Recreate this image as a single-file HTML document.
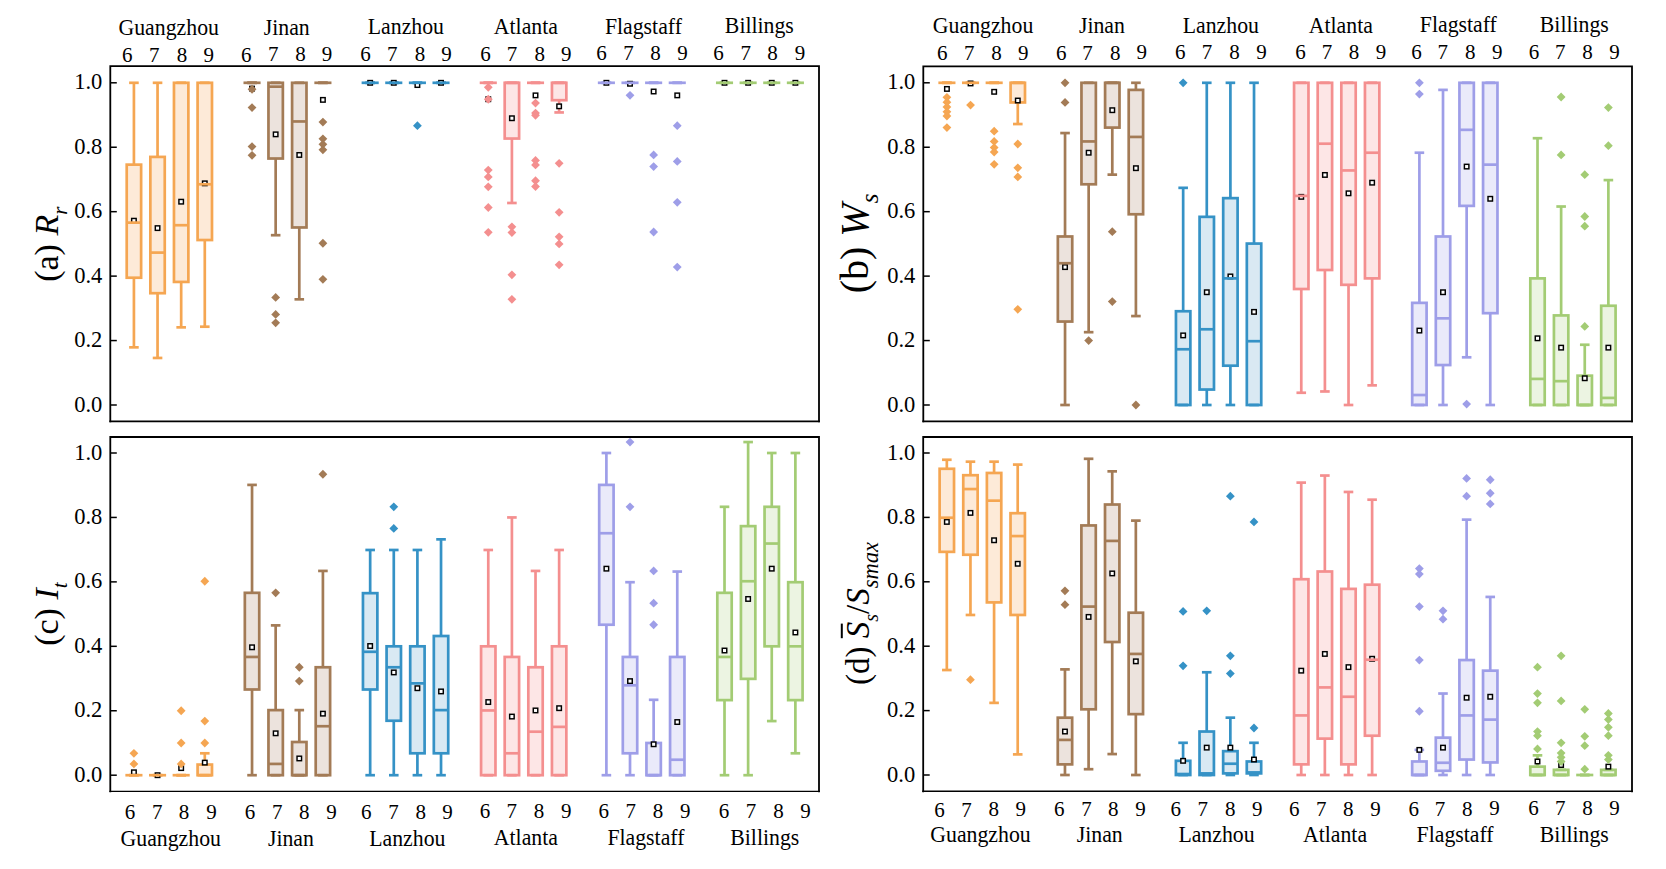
<!DOCTYPE html>
<html><head><meta charset="utf-8"><style>
html,body{margin:0;padding:0;background:#fff;}
svg{display:block;}
text{font-family:"Liberation Serif",serif;fill:#000;}
.tk{font-size:22.5px;}
.md{font-size:21px;}
.cn{font-size:21.8px;}
</style></head><body>
<svg width="1666" height="869" viewBox="0 0 1666 869">
<rect width="1666" height="869" fill="#fff"/>
<rect x="126.72" y="164.64" width="14.4" height="113.09" fill="#FDEAD8"/>
<g stroke="#F5A652" stroke-width="2.7" fill="none"><line x1="133.92" y1="164.64" x2="133.92" y2="82.8"/><line x1="133.92" y1="277.73" x2="133.92" y2="347.33"/><line x1="129.12" y1="82.8" x2="138.72" y2="82.8"/><line x1="129.12" y1="347.33" x2="138.72" y2="347.33"/><rect x="126.72" y="164.64" width="14.4" height="113.09"/></g>
<rect x="131.67" y="218.45" width="4.5" height="4.5" fill="#fff" stroke="#000" stroke-width="1.45"/>
<g stroke="#F5A652" stroke-width="2.7" fill="none"><line x1="126.72" y1="222.63" x2="141.12" y2="222.63"/></g>
<rect x="150.35" y="156.91" width="14.4" height="136.29" fill="#FDEAD8"/>
<g stroke="#F5A652" stroke-width="2.7" fill="none"><line x1="157.55" y1="156.91" x2="157.55" y2="82.8"/><line x1="157.55" y1="293.2" x2="157.55" y2="357.96"/><line x1="152.75" y1="82.8" x2="162.35" y2="82.8"/><line x1="152.75" y1="357.96" x2="162.35" y2="357.96"/><rect x="150.35" y="156.91" width="14.4" height="136.29"/></g>
<rect x="155.3" y="225.86" width="4.5" height="4.5" fill="#fff" stroke="#000" stroke-width="1.45"/>
<g stroke="#F5A652" stroke-width="2.7" fill="none"><line x1="150.35" y1="252.6" x2="164.75" y2="252.6"/></g>
<rect x="173.97" y="82.8" width="14.4" height="199.12" fill="#FDEAD8"/>
<g stroke="#F5A652" stroke-width="2.7" fill="none"><line x1="181.17" y1="281.92" x2="181.17" y2="327.35"/><line x1="176.37" y1="82.8" x2="185.97" y2="82.8"/><line x1="176.37" y1="327.35" x2="185.97" y2="327.35"/><rect x="173.97" y="82.8" width="14.4" height="199.12"/></g>
<rect x="178.92" y="199.44" width="4.5" height="4.5" fill="#fff" stroke="#000" stroke-width="1.45"/>
<g stroke="#F5A652" stroke-width="2.7" fill="none"><line x1="173.97" y1="225.21" x2="188.37" y2="225.21"/></g>
<rect x="197.59" y="82.8" width="14.4" height="157.23" fill="#FDEAD8"/>
<g stroke="#F5A652" stroke-width="2.7" fill="none"><line x1="204.79" y1="240.03" x2="204.79" y2="326.71"/><line x1="199.99" y1="82.8" x2="209.59" y2="82.8"/><line x1="199.99" y1="326.71" x2="209.59" y2="326.71"/><rect x="197.59" y="82.8" width="14.4" height="157.23"/></g>
<rect x="202.54" y="181.08" width="4.5" height="4.5" fill="#fff" stroke="#000" stroke-width="1.45"/>
<g stroke="#F5A652" stroke-width="2.7" fill="none"><line x1="197.59" y1="184.29" x2="211.99" y2="184.29"/></g>
<g stroke="#A37B56" stroke-width="2.7" fill="none"><line x1="247.24" y1="82.8" x2="256.84" y2="82.8"/><line x1="247.24" y1="82.8" x2="256.84" y2="82.8"/></g>
<rect x="249.79" y="86.35" width="4.5" height="4.5" fill="#fff" stroke="#000" stroke-width="1.45"/>
<path d="M252.04 84.84L256.44 89.24L252.04 93.64L247.64 89.24Z" fill="#A37B56"/>
<path d="M252.04 103.21L256.44 107.61L252.04 112.01L247.64 107.61Z" fill="#A37B56"/>
<path d="M252.04 142.2L256.44 146.6L252.04 151L247.64 146.6Z" fill="#A37B56"/>
<path d="M252.04 150.89L256.44 155.29L252.04 159.69L247.64 155.29Z" fill="#A37B56"/>
<g stroke="#A37B56" stroke-width="2.7" fill="none"><line x1="243.49" y1="82.8" x2="260.59" y2="82.8"/></g>
<rect x="268.46" y="82.8" width="14.4" height="75.72" fill="#ECE3DD"/>
<g stroke="#A37B56" stroke-width="2.7" fill="none"><line x1="275.66" y1="158.52" x2="275.66" y2="235.2"/><line x1="270.86" y1="82.8" x2="280.46" y2="82.8"/><line x1="270.86" y1="235.2" x2="280.46" y2="235.2"/><rect x="268.46" y="82.8" width="14.4" height="75.72"/></g>
<rect x="273.41" y="132.1" width="4.5" height="4.5" fill="#fff" stroke="#000" stroke-width="1.45"/>
<path d="M275.66 292.99L280.06 297.39L275.66 301.79L271.26 297.39Z" fill="#A37B56"/>
<path d="M275.66 310.06L280.06 314.46L275.66 318.86L271.26 314.46Z" fill="#A37B56"/>
<path d="M275.66 318.44L280.06 322.84L275.66 327.24L271.26 322.84Z" fill="#A37B56"/>
<g stroke="#A37B56" stroke-width="2.7" fill="none"><line x1="268.46" y1="86.67" x2="282.86" y2="86.67"/></g>
<rect x="292.09" y="82.8" width="14.4" height="144.67" fill="#ECE3DD"/>
<g stroke="#A37B56" stroke-width="2.7" fill="none"><line x1="299.29" y1="227.47" x2="299.29" y2="299.32"/><line x1="294.49" y1="82.8" x2="304.09" y2="82.8"/><line x1="294.49" y1="299.32" x2="304.09" y2="299.32"/><rect x="292.09" y="82.8" width="14.4" height="144.67"/></g>
<rect x="297.04" y="152.72" width="4.5" height="4.5" fill="#fff" stroke="#000" stroke-width="1.45"/>
<g stroke="#A37B56" stroke-width="2.7" fill="none"><line x1="292.09" y1="121.46" x2="306.49" y2="121.46"/></g>
<g stroke="#A37B56" stroke-width="2.7" fill="none"><line x1="318.11" y1="82.8" x2="327.71" y2="82.8"/><line x1="318.11" y1="82.8" x2="327.71" y2="82.8"/></g>
<rect x="320.66" y="97.63" width="4.5" height="4.5" fill="#fff" stroke="#000" stroke-width="1.45"/>
<path d="M322.91 117.71L327.31 122.11L322.91 126.51L318.51 122.11Z" fill="#A37B56"/>
<path d="M322.91 134.46L327.31 138.86L322.91 143.26L318.51 138.86Z" fill="#A37B56"/>
<path d="M322.91 139.94L327.31 144.34L322.91 148.74L318.51 144.34Z" fill="#A37B56"/>
<path d="M322.91 145.42L327.31 149.82L322.91 154.22L318.51 149.82Z" fill="#A37B56"/>
<path d="M322.91 238.86L327.31 243.26L322.91 247.66L318.51 243.26Z" fill="#A37B56"/>
<path d="M322.91 274.94L327.31 279.34L322.91 283.74L318.51 279.34Z" fill="#A37B56"/>
<g stroke="#A37B56" stroke-width="2.7" fill="none"><line x1="314.36" y1="82.8" x2="331.46" y2="82.8"/></g>
<g stroke="#3592C6" stroke-width="2.7" fill="none"><line x1="365.36" y1="82.8" x2="374.96" y2="82.8"/><line x1="365.36" y1="82.8" x2="374.96" y2="82.8"/></g>
<rect x="367.91" y="80.55" width="4.5" height="4.5" fill="#fff" stroke="#000" stroke-width="1.45"/>
<g stroke="#3592C6" stroke-width="2.7" fill="none"><line x1="361.61" y1="82.8" x2="378.71" y2="82.8"/></g>
<g stroke="#3592C6" stroke-width="2.7" fill="none"><line x1="388.98" y1="82.8" x2="398.58" y2="82.8"/><line x1="388.98" y1="82.8" x2="398.58" y2="82.8"/></g>
<rect x="391.53" y="80.55" width="4.5" height="4.5" fill="#fff" stroke="#000" stroke-width="1.45"/>
<g stroke="#3592C6" stroke-width="2.7" fill="none"><line x1="385.23" y1="82.8" x2="402.33" y2="82.8"/></g>
<g stroke="#3592C6" stroke-width="2.7" fill="none"><line x1="412.6" y1="82.8" x2="422.2" y2="82.8"/><line x1="412.6" y1="82.8" x2="422.2" y2="82.8"/></g>
<rect x="415.15" y="82.81" width="4.5" height="4.5" fill="#fff" stroke="#000" stroke-width="1.45"/>
<path d="M417.4 121.25L421.8 125.65L417.4 130.05L413 125.65Z" fill="#3592C6"/>
<g stroke="#3592C6" stroke-width="2.7" fill="none"><line x1="408.85" y1="82.8" x2="425.95" y2="82.8"/></g>
<g stroke="#3592C6" stroke-width="2.7" fill="none"><line x1="436.23" y1="82.8" x2="445.83" y2="82.8"/><line x1="436.23" y1="82.8" x2="445.83" y2="82.8"/></g>
<rect x="438.78" y="80.55" width="4.5" height="4.5" fill="#fff" stroke="#000" stroke-width="1.45"/>
<g stroke="#3592C6" stroke-width="2.7" fill="none"><line x1="432.48" y1="82.8" x2="449.58" y2="82.8"/></g>
<g stroke="#F48F8F" stroke-width="2.7" fill="none"><line x1="483.47" y1="82.8" x2="493.07" y2="82.8"/><line x1="483.47" y1="82.8" x2="493.07" y2="82.8"/></g>
<rect x="486.02" y="96.98" width="4.5" height="4.5" fill="#fff" stroke="#000" stroke-width="1.45"/>
<path d="M488.27 82.91L492.67 87.31L488.27 91.71L483.87 87.31Z" fill="#F48F8F"/>
<path d="M488.27 94.83L492.67 99.23L488.27 103.63L483.87 99.23Z" fill="#F48F8F"/>
<path d="M488.27 165.72L492.67 170.12L488.27 174.52L483.87 170.12Z" fill="#F48F8F"/>
<path d="M488.27 172.48L492.67 176.88L488.27 181.28L483.87 176.88Z" fill="#F48F8F"/>
<path d="M488.27 182.47L492.67 186.87L488.27 191.27L483.87 186.87Z" fill="#F48F8F"/>
<path d="M488.27 203.09L492.67 207.49L488.27 211.89L483.87 207.49Z" fill="#F48F8F"/>
<path d="M488.27 227.9L492.67 232.3L488.27 236.7L483.87 232.3Z" fill="#F48F8F"/>
<g stroke="#F48F8F" stroke-width="2.7" fill="none"><line x1="479.72" y1="82.8" x2="496.82" y2="82.8"/></g>
<rect x="504.7" y="82.8" width="14.4" height="55.74" fill="#FDE6E6"/>
<g stroke="#F48F8F" stroke-width="2.7" fill="none"><line x1="511.9" y1="138.54" x2="511.9" y2="202.98"/><line x1="507.1" y1="82.8" x2="516.7" y2="82.8"/><line x1="507.1" y1="202.98" x2="516.7" y2="202.98"/><rect x="504.7" y="82.8" width="14.4" height="55.74"/></g>
<rect x="509.65" y="115.99" width="4.5" height="4.5" fill="#fff" stroke="#000" stroke-width="1.45"/>
<path d="M511.9 222.42L516.3 226.82L511.9 231.22L507.5 226.82Z" fill="#F48F8F"/>
<path d="M511.9 228.22L516.3 232.62L511.9 237.02L507.5 232.62Z" fill="#F48F8F"/>
<path d="M511.9 270.43L516.3 274.83L511.9 279.23L507.5 274.83Z" fill="#F48F8F"/>
<path d="M511.9 294.92L516.3 299.32L511.9 303.72L507.5 299.32Z" fill="#F48F8F"/>
<g stroke="#F48F8F" stroke-width="2.7" fill="none"><line x1="504.7" y1="82.8" x2="519.1" y2="82.8"/></g>
<g stroke="#F48F8F" stroke-width="2.7" fill="none"><line x1="530.72" y1="82.8" x2="540.32" y2="82.8"/><line x1="530.72" y1="82.8" x2="540.32" y2="82.8"/></g>
<rect x="533.27" y="93.12" width="4.5" height="4.5" fill="#fff" stroke="#000" stroke-width="1.45"/>
<path d="M535.52 98.7L539.92 103.1L535.52 107.5L531.12 103.1Z" fill="#F48F8F"/>
<path d="M535.52 108.69L539.92 113.09L535.52 117.49L531.12 113.09Z" fill="#F48F8F"/>
<path d="M535.52 110.94L539.92 115.34L535.52 119.74L531.12 115.34Z" fill="#F48F8F"/>
<path d="M535.52 156.05L539.92 160.45L535.52 164.85L531.12 160.45Z" fill="#F48F8F"/>
<path d="M535.52 160.56L539.92 164.96L535.52 169.36L531.12 164.96Z" fill="#F48F8F"/>
<path d="M535.52 176.35L539.92 180.75L535.52 185.15L531.12 180.75Z" fill="#F48F8F"/>
<path d="M535.52 182.15L539.92 186.55L535.52 190.95L531.12 186.55Z" fill="#F48F8F"/>
<g stroke="#F48F8F" stroke-width="2.7" fill="none"><line x1="526.97" y1="82.8" x2="544.07" y2="82.8"/></g>
<rect x="551.94" y="82.8" width="14.4" height="17.4" fill="#FDE6E6"/>
<g stroke="#F48F8F" stroke-width="2.7" fill="none"><line x1="559.14" y1="100.2" x2="559.14" y2="112.44"/><line x1="554.34" y1="82.8" x2="563.94" y2="82.8"/><line x1="554.34" y1="112.44" x2="563.94" y2="112.44"/><rect x="551.94" y="82.8" width="14.4" height="17.4"/></g>
<rect x="556.89" y="104.07" width="4.5" height="4.5" fill="#fff" stroke="#000" stroke-width="1.45"/>
<path d="M559.14 158.95L563.54 163.35L559.14 167.75L554.74 163.35Z" fill="#F48F8F"/>
<path d="M559.14 207.92L563.54 212.32L559.14 216.72L554.74 212.32Z" fill="#F48F8F"/>
<path d="M559.14 232.41L563.54 236.81L559.14 241.21L554.74 236.81Z" fill="#F48F8F"/>
<path d="M559.14 239.5L563.54 243.9L559.14 248.3L554.74 243.9Z" fill="#F48F8F"/>
<path d="M559.14 260.44L563.54 264.84L559.14 269.24L554.74 264.84Z" fill="#F48F8F"/>
<g stroke="#F48F8F" stroke-width="2.7" fill="none"><line x1="551.94" y1="82.8" x2="566.34" y2="82.8"/></g>
<g stroke="#9E9EE8" stroke-width="2.7" fill="none"><line x1="601.59" y1="82.8" x2="611.19" y2="82.8"/><line x1="601.59" y1="82.8" x2="611.19" y2="82.8"/></g>
<rect x="604.14" y="80.55" width="4.5" height="4.5" fill="#fff" stroke="#000" stroke-width="1.45"/>
<g stroke="#9E9EE8" stroke-width="2.7" fill="none"><line x1="597.84" y1="82.8" x2="614.94" y2="82.8"/></g>
<g stroke="#9E9EE8" stroke-width="2.7" fill="none"><line x1="625.21" y1="82.8" x2="634.81" y2="82.8"/><line x1="625.21" y1="82.8" x2="634.81" y2="82.8"/></g>
<rect x="627.76" y="81.52" width="4.5" height="4.5" fill="#fff" stroke="#000" stroke-width="1.45"/>
<path d="M630.01 90.97L634.41 95.37L630.01 99.77L625.61 95.37Z" fill="#9E9EE8"/>
<g stroke="#9E9EE8" stroke-width="2.7" fill="none"><line x1="621.46" y1="82.8" x2="638.56" y2="82.8"/></g>
<g stroke="#9E9EE8" stroke-width="2.7" fill="none"><line x1="648.84" y1="82.8" x2="658.44" y2="82.8"/><line x1="648.84" y1="82.8" x2="658.44" y2="82.8"/></g>
<rect x="651.39" y="89.25" width="4.5" height="4.5" fill="#fff" stroke="#000" stroke-width="1.45"/>
<path d="M653.64 150.57L658.04 154.97L653.64 159.37L649.24 154.97Z" fill="#9E9EE8"/>
<path d="M653.64 162.17L658.04 166.57L653.64 170.97L649.24 166.57Z" fill="#9E9EE8"/>
<path d="M653.64 227.58L658.04 231.98L653.64 236.38L649.24 231.98Z" fill="#9E9EE8"/>
<g stroke="#9E9EE8" stroke-width="2.7" fill="none"><line x1="645.09" y1="82.8" x2="662.19" y2="82.8"/></g>
<g stroke="#9E9EE8" stroke-width="2.7" fill="none"><line x1="672.46" y1="82.8" x2="682.06" y2="82.8"/><line x1="672.46" y1="82.8" x2="682.06" y2="82.8"/></g>
<rect x="675.01" y="93.12" width="4.5" height="4.5" fill="#fff" stroke="#000" stroke-width="1.45"/>
<path d="M677.26 121.25L681.66 125.65L677.26 130.05L672.86 125.65Z" fill="#9E9EE8"/>
<path d="M677.26 157.02L681.66 161.42L677.26 165.82L672.86 161.42Z" fill="#9E9EE8"/>
<path d="M677.26 197.94L681.66 202.34L677.26 206.74L672.86 202.34Z" fill="#9E9EE8"/>
<path d="M677.26 262.7L681.66 267.1L677.26 271.5L672.86 267.1Z" fill="#9E9EE8"/>
<g stroke="#9E9EE8" stroke-width="2.7" fill="none"><line x1="668.71" y1="82.8" x2="685.81" y2="82.8"/></g>
<g stroke="#A3CC74" stroke-width="2.7" fill="none"><line x1="719.71" y1="82.8" x2="729.31" y2="82.8"/><line x1="719.71" y1="82.8" x2="729.31" y2="82.8"/></g>
<rect x="722.26" y="80.55" width="4.5" height="4.5" fill="#fff" stroke="#000" stroke-width="1.45"/>
<g stroke="#A3CC74" stroke-width="2.7" fill="none"><line x1="715.96" y1="82.8" x2="733.06" y2="82.8"/></g>
<g stroke="#A3CC74" stroke-width="2.7" fill="none"><line x1="743.33" y1="82.8" x2="752.93" y2="82.8"/><line x1="743.33" y1="82.8" x2="752.93" y2="82.8"/></g>
<rect x="745.88" y="80.55" width="4.5" height="4.5" fill="#fff" stroke="#000" stroke-width="1.45"/>
<g stroke="#A3CC74" stroke-width="2.7" fill="none"><line x1="739.58" y1="82.8" x2="756.68" y2="82.8"/></g>
<g stroke="#A3CC74" stroke-width="2.7" fill="none"><line x1="766.95" y1="82.8" x2="776.55" y2="82.8"/><line x1="766.95" y1="82.8" x2="776.55" y2="82.8"/></g>
<rect x="769.5" y="80.55" width="4.5" height="4.5" fill="#fff" stroke="#000" stroke-width="1.45"/>
<g stroke="#A3CC74" stroke-width="2.7" fill="none"><line x1="763.2" y1="82.8" x2="780.3" y2="82.8"/></g>
<g stroke="#A3CC74" stroke-width="2.7" fill="none"><line x1="790.58" y1="82.8" x2="800.18" y2="82.8"/><line x1="790.58" y1="82.8" x2="800.18" y2="82.8"/></g>
<rect x="793.13" y="80.55" width="4.5" height="4.5" fill="#fff" stroke="#000" stroke-width="1.45"/>
<g stroke="#A3CC74" stroke-width="2.7" fill="none"><line x1="786.83" y1="82.8" x2="803.93" y2="82.8"/></g>
<path d="M110.3 421.3V66.1H819V421.3" fill="none" stroke="#000" stroke-width="1.8" stroke-linejoin="miter" stroke-linecap="square"/>
<line x1="109.4" y1="421.3" x2="819.9" y2="421.3" stroke="#000" stroke-width="1.8"/>
<line x1="110.3" y1="405" x2="116.8" y2="405" stroke="#000" stroke-width="1.5"/>
<text x="102.3" y="411.5" text-anchor="end" class="tk">0.0</text>
<line x1="110.3" y1="340.56" x2="116.8" y2="340.56" stroke="#000" stroke-width="1.5"/>
<text x="102.3" y="347.06" text-anchor="end" class="tk">0.2</text>
<line x1="110.3" y1="276.12" x2="116.8" y2="276.12" stroke="#000" stroke-width="1.5"/>
<text x="102.3" y="282.62" text-anchor="end" class="tk">0.4</text>
<line x1="110.3" y1="211.68" x2="116.8" y2="211.68" stroke="#000" stroke-width="1.5"/>
<text x="102.3" y="218.18" text-anchor="end" class="tk">0.6</text>
<line x1="110.3" y1="147.24" x2="116.8" y2="147.24" stroke="#000" stroke-width="1.5"/>
<text x="102.3" y="153.74" text-anchor="end" class="tk">0.8</text>
<line x1="110.3" y1="82.8" x2="116.8" y2="82.8" stroke="#000" stroke-width="1.5"/>
<text x="102.3" y="89.3" text-anchor="end" class="tk">1.0</text>
<g stroke="#F5A652" stroke-width="2.7" fill="none"><line x1="942.12" y1="82.8" x2="951.72" y2="82.8"/><line x1="942.12" y1="82.8" x2="951.72" y2="82.8"/></g>
<rect x="944.67" y="86.67" width="4.5" height="4.5" fill="#fff" stroke="#000" stroke-width="1.45"/>
<path d="M946.92 92.9L951.32 97.3L946.92 101.7L942.52 97.3Z" fill="#F5A652"/>
<path d="M946.92 97.73L951.32 102.13L946.92 106.53L942.52 102.13Z" fill="#F5A652"/>
<path d="M946.92 102.56L951.32 106.96L946.92 111.36L942.52 106.96Z" fill="#F5A652"/>
<path d="M946.92 107.4L951.32 111.8L946.92 116.2L942.52 111.8Z" fill="#F5A652"/>
<path d="M946.92 111.59L951.32 115.99L946.92 120.39L942.52 115.99Z" fill="#F5A652"/>
<path d="M946.92 123.19L951.32 127.59L946.92 131.99L942.52 127.59Z" fill="#F5A652"/>
<g stroke="#F5A652" stroke-width="2.7" fill="none"><line x1="938.37" y1="82.8" x2="955.47" y2="82.8"/></g>
<g stroke="#F5A652" stroke-width="2.7" fill="none"><line x1="965.75" y1="82.8" x2="975.35" y2="82.8"/><line x1="965.75" y1="82.8" x2="975.35" y2="82.8"/></g>
<rect x="968.3" y="81.19" width="4.5" height="4.5" fill="#fff" stroke="#000" stroke-width="1.45"/>
<path d="M970.55 100.63L974.95 105.03L970.55 109.43L966.15 105.03Z" fill="#F5A652"/>
<g stroke="#F5A652" stroke-width="2.7" fill="none"><line x1="962" y1="82.8" x2="979.1" y2="82.8"/></g>
<g stroke="#F5A652" stroke-width="2.7" fill="none"><line x1="989.37" y1="82.8" x2="998.97" y2="82.8"/><line x1="989.37" y1="82.8" x2="998.97" y2="82.8"/></g>
<rect x="991.92" y="89.57" width="4.5" height="4.5" fill="#fff" stroke="#000" stroke-width="1.45"/>
<path d="M994.17 126.73L998.57 131.13L994.17 135.53L989.77 131.13Z" fill="#F5A652"/>
<path d="M994.17 137.04L998.57 141.44L994.17 145.84L989.77 141.44Z" fill="#F5A652"/>
<path d="M994.17 143.16L998.57 147.56L994.17 151.96L989.77 147.56Z" fill="#F5A652"/>
<path d="M994.17 147.67L998.57 152.07L994.17 156.47L989.77 152.07Z" fill="#F5A652"/>
<path d="M994.17 159.92L998.57 164.32L994.17 168.72L989.77 164.32Z" fill="#F5A652"/>
<g stroke="#F5A652" stroke-width="2.7" fill="none"><line x1="985.62" y1="82.8" x2="1002.72" y2="82.8"/></g>
<rect x="1010.59" y="82.8" width="14.4" height="19.65" fill="#FDEAD8"/>
<g stroke="#F5A652" stroke-width="2.7" fill="none"><line x1="1017.79" y1="102.45" x2="1017.79" y2="124.04"/><line x1="1012.99" y1="82.8" x2="1022.59" y2="82.8"/><line x1="1012.99" y1="124.04" x2="1022.59" y2="124.04"/><rect x="1010.59" y="82.8" width="14.4" height="19.65"/></g>
<rect x="1015.54" y="98.27" width="4.5" height="4.5" fill="#fff" stroke="#000" stroke-width="1.45"/>
<path d="M1017.79 139.62L1022.19 144.02L1017.79 148.42L1013.39 144.02Z" fill="#F5A652"/>
<path d="M1017.79 163.46L1022.19 167.86L1017.79 172.26L1013.39 167.86Z" fill="#F5A652"/>
<path d="M1017.79 172.48L1022.19 176.88L1017.79 181.28L1013.39 176.88Z" fill="#F5A652"/>
<path d="M1017.79 304.91L1022.19 309.31L1017.79 313.71L1013.39 309.31Z" fill="#F5A652"/>
<g stroke="#F5A652" stroke-width="2.7" fill="none"><line x1="1010.59" y1="82.8" x2="1024.99" y2="82.8"/></g>
<rect x="1057.84" y="236.49" width="14.4" height="85.06" fill="#ECE3DD"/>
<g stroke="#A37B56" stroke-width="2.7" fill="none"><line x1="1065.04" y1="236.49" x2="1065.04" y2="133.06"/><line x1="1065.04" y1="321.55" x2="1065.04" y2="405"/><line x1="1060.24" y1="133.06" x2="1069.84" y2="133.06"/><line x1="1060.24" y1="405" x2="1069.84" y2="405"/><rect x="1057.84" y="236.49" width="14.4" height="85.06"/></g>
<rect x="1062.79" y="264.85" width="4.5" height="4.5" fill="#fff" stroke="#000" stroke-width="1.45"/>
<path d="M1065.04 78.4L1069.44 82.8L1065.04 87.2L1060.64 82.8Z" fill="#A37B56"/>
<path d="M1065.04 98.05L1069.44 102.45L1065.04 106.85L1060.64 102.45Z" fill="#A37B56"/>
<g stroke="#A37B56" stroke-width="2.7" fill="none"><line x1="1057.84" y1="263.23" x2="1072.24" y2="263.23"/></g>
<rect x="1081.46" y="82.8" width="14.4" height="101.49" fill="#ECE3DD"/>
<g stroke="#A37B56" stroke-width="2.7" fill="none"><line x1="1088.66" y1="184.29" x2="1088.66" y2="332.18"/><line x1="1083.86" y1="82.8" x2="1093.46" y2="82.8"/><line x1="1083.86" y1="332.18" x2="1093.46" y2="332.18"/><rect x="1081.46" y="82.8" width="14.4" height="101.49"/></g>
<rect x="1086.41" y="150.47" width="4.5" height="4.5" fill="#fff" stroke="#000" stroke-width="1.45"/>
<path d="M1088.66 336.16L1093.06 340.56L1088.66 344.96L1084.26 340.56Z" fill="#A37B56"/>
<g stroke="#A37B56" stroke-width="2.7" fill="none"><line x1="1081.46" y1="141.44" x2="1095.86" y2="141.44"/></g>
<rect x="1105.09" y="82.8" width="14.4" height="44.79" fill="#ECE3DD"/>
<g stroke="#A37B56" stroke-width="2.7" fill="none"><line x1="1112.29" y1="127.59" x2="1112.29" y2="174.63"/><line x1="1107.49" y1="82.8" x2="1117.09" y2="82.8"/><line x1="1107.49" y1="174.63" x2="1117.09" y2="174.63"/><rect x="1105.09" y="82.8" width="14.4" height="44.79"/></g>
<rect x="1110.04" y="107.94" width="4.5" height="4.5" fill="#fff" stroke="#000" stroke-width="1.45"/>
<path d="M1112.29 227.26L1116.69 231.66L1112.29 236.06L1107.89 231.66Z" fill="#A37B56"/>
<path d="M1112.29 297.17L1116.69 301.57L1112.29 305.97L1107.89 301.57Z" fill="#A37B56"/>
<g stroke="#A37B56" stroke-width="2.7" fill="none"><line x1="1105.09" y1="82.8" x2="1119.49" y2="82.8"/></g>
<rect x="1128.71" y="89.89" width="14.4" height="124.37" fill="#ECE3DD"/>
<g stroke="#A37B56" stroke-width="2.7" fill="none"><line x1="1135.91" y1="89.89" x2="1135.91" y2="82.8"/><line x1="1135.91" y1="214.26" x2="1135.91" y2="316.07"/><line x1="1131.11" y1="82.8" x2="1140.71" y2="82.8"/><line x1="1131.11" y1="316.07" x2="1140.71" y2="316.07"/><rect x="1128.71" y="89.89" width="14.4" height="124.37"/></g>
<rect x="1133.66" y="165.93" width="4.5" height="4.5" fill="#fff" stroke="#000" stroke-width="1.45"/>
<path d="M1135.91 400.6L1140.31 405L1135.91 409.4L1131.51 405Z" fill="#A37B56"/>
<g stroke="#A37B56" stroke-width="2.7" fill="none"><line x1="1128.71" y1="136.93" x2="1143.11" y2="136.93"/></g>
<rect x="1175.96" y="311.24" width="14.4" height="93.76" fill="#D9E9F3"/>
<g stroke="#3592C6" stroke-width="2.7" fill="none"><line x1="1183.16" y1="311.24" x2="1183.16" y2="187.84"/><line x1="1178.36" y1="187.84" x2="1187.96" y2="187.84"/><line x1="1178.36" y1="405" x2="1187.96" y2="405"/><rect x="1175.96" y="311.24" width="14.4" height="93.76"/></g>
<rect x="1180.91" y="333.15" width="4.5" height="4.5" fill="#fff" stroke="#000" stroke-width="1.45"/>
<path d="M1183.16 78.4L1187.56 82.8L1183.16 87.2L1178.76 82.8Z" fill="#3592C6"/>
<g stroke="#3592C6" stroke-width="2.7" fill="none"><line x1="1175.96" y1="349.26" x2="1190.36" y2="349.26"/></g>
<rect x="1199.58" y="216.84" width="14.4" height="172.7" fill="#D9E9F3"/>
<g stroke="#3592C6" stroke-width="2.7" fill="none"><line x1="1206.78" y1="216.84" x2="1206.78" y2="82.8"/><line x1="1206.78" y1="389.53" x2="1206.78" y2="405"/><line x1="1201.98" y1="82.8" x2="1211.58" y2="82.8"/><line x1="1201.98" y1="405" x2="1211.58" y2="405"/><rect x="1199.58" y="216.84" width="14.4" height="172.7"/></g>
<rect x="1204.53" y="289.98" width="4.5" height="4.5" fill="#fff" stroke="#000" stroke-width="1.45"/>
<g stroke="#3592C6" stroke-width="2.7" fill="none"><line x1="1199.58" y1="329.28" x2="1213.98" y2="329.28"/></g>
<rect x="1223.2" y="198.15" width="14.4" height="167.54" fill="#D9E9F3"/>
<g stroke="#3592C6" stroke-width="2.7" fill="none"><line x1="1230.4" y1="198.15" x2="1230.4" y2="82.8"/><line x1="1230.4" y1="365.69" x2="1230.4" y2="405"/><line x1="1225.6" y1="82.8" x2="1235.2" y2="82.8"/><line x1="1225.6" y1="405" x2="1235.2" y2="405"/><rect x="1223.2" y="198.15" width="14.4" height="167.54"/></g>
<rect x="1228.15" y="274.19" width="4.5" height="4.5" fill="#fff" stroke="#000" stroke-width="1.45"/>
<g stroke="#3592C6" stroke-width="2.7" fill="none"><line x1="1223.2" y1="278.38" x2="1237.6" y2="278.38"/></g>
<rect x="1246.83" y="243.58" width="14.4" height="161.42" fill="#D9E9F3"/>
<g stroke="#3592C6" stroke-width="2.7" fill="none"><line x1="1254.03" y1="243.58" x2="1254.03" y2="82.8"/><line x1="1249.23" y1="82.8" x2="1258.83" y2="82.8"/><line x1="1249.23" y1="405" x2="1258.83" y2="405"/><rect x="1246.83" y="243.58" width="14.4" height="161.42"/></g>
<rect x="1251.78" y="309.63" width="4.5" height="4.5" fill="#fff" stroke="#000" stroke-width="1.45"/>
<g stroke="#3592C6" stroke-width="2.7" fill="none"><line x1="1246.83" y1="341.2" x2="1261.23" y2="341.2"/></g>
<rect x="1294.07" y="82.8" width="14.4" height="206.21" fill="#FDE6E6"/>
<g stroke="#F48F8F" stroke-width="2.7" fill="none"><line x1="1301.27" y1="289.01" x2="1301.27" y2="392.76"/><line x1="1296.47" y1="82.8" x2="1306.07" y2="82.8"/><line x1="1296.47" y1="392.76" x2="1306.07" y2="392.76"/><rect x="1294.07" y="82.8" width="14.4" height="206.21"/></g>
<rect x="1299.02" y="194.61" width="4.5" height="4.5" fill="#fff" stroke="#000" stroke-width="1.45"/>
<g stroke="#F48F8F" stroke-width="2.7" fill="none"><line x1="1294.07" y1="195.89" x2="1308.47" y2="195.89"/></g>
<rect x="1317.7" y="82.8" width="14.4" height="187.2" fill="#FDE6E6"/>
<g stroke="#F48F8F" stroke-width="2.7" fill="none"><line x1="1324.9" y1="270" x2="1324.9" y2="391.47"/><line x1="1320.1" y1="82.8" x2="1329.7" y2="82.8"/><line x1="1320.1" y1="391.47" x2="1329.7" y2="391.47"/><rect x="1317.7" y="82.8" width="14.4" height="187.2"/></g>
<rect x="1322.65" y="172.7" width="4.5" height="4.5" fill="#fff" stroke="#000" stroke-width="1.45"/>
<g stroke="#F48F8F" stroke-width="2.7" fill="none"><line x1="1317.7" y1="143.7" x2="1332.1" y2="143.7"/></g>
<rect x="1341.32" y="82.8" width="14.4" height="202.02" fill="#FDE6E6"/>
<g stroke="#F48F8F" stroke-width="2.7" fill="none"><line x1="1348.52" y1="284.82" x2="1348.52" y2="405"/><line x1="1343.72" y1="82.8" x2="1353.32" y2="82.8"/><line x1="1343.72" y1="405" x2="1353.32" y2="405"/><rect x="1341.32" y="82.8" width="14.4" height="202.02"/></g>
<rect x="1346.27" y="191.06" width="4.5" height="4.5" fill="#fff" stroke="#000" stroke-width="1.45"/>
<g stroke="#F48F8F" stroke-width="2.7" fill="none"><line x1="1341.32" y1="170.44" x2="1355.72" y2="170.44"/></g>
<rect x="1364.94" y="82.8" width="14.4" height="195.58" fill="#FDE6E6"/>
<g stroke="#F48F8F" stroke-width="2.7" fill="none"><line x1="1372.14" y1="278.38" x2="1372.14" y2="385.35"/><line x1="1367.34" y1="82.8" x2="1376.94" y2="82.8"/><line x1="1367.34" y1="385.35" x2="1376.94" y2="385.35"/><rect x="1364.94" y="82.8" width="14.4" height="195.58"/></g>
<rect x="1369.89" y="180.43" width="4.5" height="4.5" fill="#fff" stroke="#000" stroke-width="1.45"/>
<g stroke="#F48F8F" stroke-width="2.7" fill="none"><line x1="1364.94" y1="152.72" x2="1379.34" y2="152.72"/></g>
<rect x="1412.19" y="302.86" width="14.4" height="102.14" fill="#EAEAFA"/>
<g stroke="#9E9EE8" stroke-width="2.7" fill="none"><line x1="1419.39" y1="302.86" x2="1419.39" y2="152.72"/><line x1="1414.59" y1="152.72" x2="1424.19" y2="152.72"/><line x1="1414.59" y1="405" x2="1424.19" y2="405"/><rect x="1412.19" y="302.86" width="14.4" height="102.14"/></g>
<rect x="1417.14" y="328.32" width="4.5" height="4.5" fill="#fff" stroke="#000" stroke-width="1.45"/>
<path d="M1419.39 78.4L1423.79 82.8L1419.39 87.2L1414.99 82.8Z" fill="#9E9EE8"/>
<path d="M1419.39 89.68L1423.79 94.08L1419.39 98.48L1414.99 94.08Z" fill="#9E9EE8"/>
<g stroke="#9E9EE8" stroke-width="2.7" fill="none"><line x1="1412.19" y1="395.01" x2="1426.59" y2="395.01"/></g>
<rect x="1435.81" y="236.49" width="14.4" height="128.56" fill="#EAEAFA"/>
<g stroke="#9E9EE8" stroke-width="2.7" fill="none"><line x1="1443.01" y1="236.49" x2="1443.01" y2="89.89"/><line x1="1443.01" y1="365.05" x2="1443.01" y2="405"/><line x1="1438.21" y1="89.89" x2="1447.81" y2="89.89"/><line x1="1438.21" y1="405" x2="1447.81" y2="405"/><rect x="1435.81" y="236.49" width="14.4" height="128.56"/></g>
<rect x="1440.76" y="289.98" width="4.5" height="4.5" fill="#fff" stroke="#000" stroke-width="1.45"/>
<g stroke="#9E9EE8" stroke-width="2.7" fill="none"><line x1="1435.81" y1="318.33" x2="1450.21" y2="318.33"/></g>
<rect x="1459.44" y="82.8" width="14.4" height="123.08" fill="#EAEAFA"/>
<g stroke="#9E9EE8" stroke-width="2.7" fill="none"><line x1="1466.64" y1="205.88" x2="1466.64" y2="357.31"/><line x1="1461.84" y1="82.8" x2="1471.44" y2="82.8"/><line x1="1461.84" y1="357.31" x2="1471.44" y2="357.31"/><rect x="1459.44" y="82.8" width="14.4" height="123.08"/></g>
<rect x="1464.39" y="164.32" width="4.5" height="4.5" fill="#fff" stroke="#000" stroke-width="1.45"/>
<path d="M1466.64 399.63L1471.04 404.03L1466.64 408.43L1462.24 404.03Z" fill="#9E9EE8"/>
<g stroke="#9E9EE8" stroke-width="2.7" fill="none"><line x1="1459.44" y1="129.84" x2="1473.84" y2="129.84"/></g>
<rect x="1483.06" y="82.8" width="14.4" height="230.37" fill="#EAEAFA"/>
<g stroke="#9E9EE8" stroke-width="2.7" fill="none"><line x1="1490.26" y1="313.17" x2="1490.26" y2="405"/><line x1="1485.46" y1="82.8" x2="1495.06" y2="82.8"/><line x1="1485.46" y1="405" x2="1495.06" y2="405"/><rect x="1483.06" y="82.8" width="14.4" height="230.37"/></g>
<rect x="1488.01" y="196.54" width="4.5" height="4.5" fill="#fff" stroke="#000" stroke-width="1.45"/>
<g stroke="#9E9EE8" stroke-width="2.7" fill="none"><line x1="1483.06" y1="164.64" x2="1497.46" y2="164.64"/></g>
<rect x="1530.31" y="278.38" width="14.4" height="126.62" fill="#ECF4E2"/>
<g stroke="#A3CC74" stroke-width="2.7" fill="none"><line x1="1537.51" y1="278.38" x2="1537.51" y2="138.22"/><line x1="1532.71" y1="138.22" x2="1542.31" y2="138.22"/><line x1="1532.71" y1="405" x2="1542.31" y2="405"/><rect x="1530.31" y="278.38" width="14.4" height="126.62"/></g>
<rect x="1535.26" y="336.05" width="4.5" height="4.5" fill="#fff" stroke="#000" stroke-width="1.45"/>
<g stroke="#A3CC74" stroke-width="2.7" fill="none"><line x1="1530.31" y1="378.9" x2="1544.71" y2="378.9"/></g>
<rect x="1553.93" y="315.43" width="14.4" height="89.57" fill="#ECF4E2"/>
<g stroke="#A3CC74" stroke-width="2.7" fill="none"><line x1="1561.13" y1="315.43" x2="1561.13" y2="206.52"/><line x1="1556.33" y1="206.52" x2="1565.93" y2="206.52"/><line x1="1556.33" y1="405" x2="1565.93" y2="405"/><rect x="1553.93" y="315.43" width="14.4" height="89.57"/></g>
<rect x="1558.88" y="345.4" width="4.5" height="4.5" fill="#fff" stroke="#000" stroke-width="1.45"/>
<path d="M1561.13 92.58L1565.53 96.98L1561.13 101.38L1556.73 96.98Z" fill="#A3CC74"/>
<path d="M1561.13 150.57L1565.53 154.97L1561.13 159.37L1556.73 154.97Z" fill="#A3CC74"/>
<g stroke="#A3CC74" stroke-width="2.7" fill="none"><line x1="1553.93" y1="381.16" x2="1568.33" y2="381.16"/></g>
<rect x="1577.55" y="375.68" width="14.4" height="29.32" fill="#ECF4E2"/>
<g stroke="#A3CC74" stroke-width="2.7" fill="none"><line x1="1584.75" y1="375.68" x2="1584.75" y2="344.75"/><line x1="1579.95" y1="344.75" x2="1589.55" y2="344.75"/><line x1="1579.95" y1="405" x2="1589.55" y2="405"/><rect x="1577.55" y="375.68" width="14.4" height="29.32"/></g>
<rect x="1582.5" y="376.01" width="4.5" height="4.5" fill="#fff" stroke="#000" stroke-width="1.45"/>
<path d="M1584.75 170.23L1589.15 174.63L1584.75 179.03L1580.35 174.63Z" fill="#A3CC74"/>
<path d="M1584.75 212.11L1589.15 216.51L1584.75 220.91L1580.35 216.51Z" fill="#A3CC74"/>
<path d="M1584.75 221.78L1589.15 226.18L1584.75 230.58L1580.35 226.18Z" fill="#A3CC74"/>
<path d="M1584.75 321.98L1589.15 326.38L1584.75 330.78L1580.35 326.38Z" fill="#A3CC74"/>
<g stroke="#A3CC74" stroke-width="2.7" fill="none"><line x1="1577.55" y1="405" x2="1591.95" y2="405"/></g>
<rect x="1601.18" y="305.76" width="14.4" height="99.24" fill="#ECF4E2"/>
<g stroke="#A3CC74" stroke-width="2.7" fill="none"><line x1="1608.38" y1="305.76" x2="1608.38" y2="180.1"/><line x1="1603.58" y1="180.1" x2="1613.18" y2="180.1"/><line x1="1603.58" y1="405" x2="1613.18" y2="405"/><rect x="1601.18" y="305.76" width="14.4" height="99.24"/></g>
<rect x="1606.13" y="345.4" width="4.5" height="4.5" fill="#fff" stroke="#000" stroke-width="1.45"/>
<path d="M1608.38 103.21L1612.78 107.61L1608.38 112.01L1603.98 107.61Z" fill="#A3CC74"/>
<path d="M1608.38 141.23L1612.78 145.63L1608.38 150.03L1603.98 145.63Z" fill="#A3CC74"/>
<g stroke="#A3CC74" stroke-width="2.7" fill="none"><line x1="1601.18" y1="397.91" x2="1615.58" y2="397.91"/></g>
<path d="M923.3 421.3V66.3H1632V421.3" fill="none" stroke="#000" stroke-width="1.8" stroke-linejoin="miter" stroke-linecap="square"/>
<line x1="922.4" y1="421.3" x2="1632.9" y2="421.3" stroke="#000" stroke-width="1.8"/>
<line x1="923.3" y1="405" x2="929.8" y2="405" stroke="#000" stroke-width="1.5"/>
<text x="915.3" y="411.5" text-anchor="end" class="tk">0.0</text>
<line x1="923.3" y1="340.56" x2="929.8" y2="340.56" stroke="#000" stroke-width="1.5"/>
<text x="915.3" y="347.06" text-anchor="end" class="tk">0.2</text>
<line x1="923.3" y1="276.12" x2="929.8" y2="276.12" stroke="#000" stroke-width="1.5"/>
<text x="915.3" y="282.62" text-anchor="end" class="tk">0.4</text>
<line x1="923.3" y1="211.68" x2="929.8" y2="211.68" stroke="#000" stroke-width="1.5"/>
<text x="915.3" y="218.18" text-anchor="end" class="tk">0.6</text>
<line x1="923.3" y1="147.24" x2="929.8" y2="147.24" stroke="#000" stroke-width="1.5"/>
<text x="915.3" y="153.74" text-anchor="end" class="tk">0.8</text>
<line x1="923.3" y1="82.8" x2="929.8" y2="82.8" stroke="#000" stroke-width="1.5"/>
<text x="915.3" y="89.3" text-anchor="end" class="tk">1.0</text>
<g stroke="#F5A652" stroke-width="2.7" fill="none"><line x1="129.12" y1="775.2" x2="138.72" y2="775.2"/><line x1="129.12" y1="775.2" x2="138.72" y2="775.2"/></g>
<rect x="131.67" y="770.05" width="4.5" height="4.5" fill="#fff" stroke="#000" stroke-width="1.45"/>
<path d="M133.92 748.89L138.32 753.29L133.92 757.69L129.52 753.29Z" fill="#F5A652"/>
<path d="M133.92 759.52L138.32 763.92L133.92 768.32L129.52 763.92Z" fill="#F5A652"/>
<g stroke="#F5A652" stroke-width="2.7" fill="none"><line x1="125.37" y1="775.2" x2="142.47" y2="775.2"/></g>
<g stroke="#F5A652" stroke-width="2.7" fill="none"><line x1="152.75" y1="775.2" x2="162.35" y2="775.2"/><line x1="152.75" y1="775.2" x2="162.35" y2="775.2"/></g>
<rect x="155.3" y="772.95" width="4.5" height="4.5" fill="#fff" stroke="#000" stroke-width="1.45"/>
<g stroke="#F5A652" stroke-width="2.7" fill="none"><line x1="149" y1="775.2" x2="166.1" y2="775.2"/></g>
<g stroke="#F5A652" stroke-width="2.7" fill="none"><line x1="176.37" y1="775.2" x2="185.97" y2="775.2"/><line x1="176.37" y1="775.2" x2="185.97" y2="775.2"/></g>
<rect x="178.92" y="765.86" width="4.5" height="4.5" fill="#fff" stroke="#000" stroke-width="1.45"/>
<path d="M181.17 706.36L185.57 710.76L181.17 715.16L176.77 710.76Z" fill="#F5A652"/>
<path d="M181.17 738.58L185.57 742.98L181.17 747.38L176.77 742.98Z" fill="#F5A652"/>
<path d="M181.17 759.52L185.57 763.92L181.17 768.32L176.77 763.92Z" fill="#F5A652"/>
<g stroke="#F5A652" stroke-width="2.7" fill="none"><line x1="172.62" y1="775.2" x2="189.72" y2="775.2"/></g>
<rect x="197.59" y="764.57" width="14.4" height="10.63" fill="#FDEAD8"/>
<g stroke="#F5A652" stroke-width="2.7" fill="none"><line x1="204.79" y1="764.57" x2="204.79" y2="753.29"/><line x1="199.99" y1="753.29" x2="209.59" y2="753.29"/><line x1="199.99" y1="775.2" x2="209.59" y2="775.2"/><rect x="197.59" y="764.57" width="14.4" height="10.63"/></g>
<rect x="202.54" y="760.38" width="4.5" height="4.5" fill="#fff" stroke="#000" stroke-width="1.45"/>
<path d="M204.79 576.84L209.19 581.24L204.79 585.64L200.39 581.24Z" fill="#F5A652"/>
<path d="M204.79 716.67L209.19 721.07L204.79 725.47L200.39 721.07Z" fill="#F5A652"/>
<path d="M204.79 738.58L209.19 742.98L204.79 747.38L200.39 742.98Z" fill="#F5A652"/>
<g stroke="#F5A652" stroke-width="2.7" fill="none"><line x1="197.59" y1="775.2" x2="211.99" y2="775.2"/></g>
<rect x="244.84" y="592.83" width="14.4" height="96.66" fill="#ECE3DD"/>
<g stroke="#A37B56" stroke-width="2.7" fill="none"><line x1="252.04" y1="592.83" x2="252.04" y2="484.9"/><line x1="252.04" y1="689.49" x2="252.04" y2="775.2"/><line x1="247.24" y1="484.9" x2="256.84" y2="484.9"/><line x1="247.24" y1="775.2" x2="256.84" y2="775.2"/><rect x="244.84" y="592.83" width="14.4" height="96.66"/></g>
<rect x="249.79" y="645.04" width="4.5" height="4.5" fill="#fff" stroke="#000" stroke-width="1.45"/>
<g stroke="#A37B56" stroke-width="2.7" fill="none"><line x1="244.84" y1="656.95" x2="259.24" y2="656.95"/></g>
<rect x="268.46" y="710.12" width="14.4" height="65.08" fill="#ECE3DD"/>
<g stroke="#A37B56" stroke-width="2.7" fill="none"><line x1="275.66" y1="710.12" x2="275.66" y2="625.38"/><line x1="270.86" y1="625.38" x2="280.46" y2="625.38"/><line x1="270.86" y1="775.2" x2="280.46" y2="775.2"/><rect x="268.46" y="710.12" width="14.4" height="65.08"/></g>
<rect x="273.41" y="731.06" width="4.5" height="4.5" fill="#fff" stroke="#000" stroke-width="1.45"/>
<path d="M275.66 588.43L280.06 592.83L275.66 597.23L271.26 592.83Z" fill="#A37B56"/>
<g stroke="#A37B56" stroke-width="2.7" fill="none"><line x1="268.46" y1="763.92" x2="282.86" y2="763.92"/></g>
<rect x="292.09" y="742.01" width="14.4" height="33.19" fill="#ECE3DD"/>
<g stroke="#A37B56" stroke-width="2.7" fill="none"><line x1="299.29" y1="742.01" x2="299.29" y2="710.12"/><line x1="294.49" y1="710.12" x2="304.09" y2="710.12"/><line x1="294.49" y1="775.2" x2="304.09" y2="775.2"/><rect x="292.09" y="742.01" width="14.4" height="33.19"/></g>
<rect x="297.04" y="756.2" width="4.5" height="4.5" fill="#fff" stroke="#000" stroke-width="1.45"/>
<path d="M299.29 662.86L303.69 667.26L299.29 671.66L294.89 667.26Z" fill="#A37B56"/>
<path d="M299.29 676.72L303.69 681.12L299.29 685.52L294.89 681.12Z" fill="#A37B56"/>
<g stroke="#A37B56" stroke-width="2.7" fill="none"><line x1="292.09" y1="775.2" x2="306.49" y2="775.2"/></g>
<rect x="315.71" y="667.26" width="14.4" height="107.94" fill="#ECE3DD"/>
<g stroke="#A37B56" stroke-width="2.7" fill="none"><line x1="322.91" y1="667.26" x2="322.91" y2="570.93"/><line x1="318.11" y1="570.93" x2="327.71" y2="570.93"/><line x1="318.11" y1="775.2" x2="327.71" y2="775.2"/><rect x="315.71" y="667.26" width="14.4" height="107.94"/></g>
<rect x="320.66" y="711.41" width="4.5" height="4.5" fill="#fff" stroke="#000" stroke-width="1.45"/>
<path d="M322.91 469.87L327.31 474.27L322.91 478.67L318.51 474.27Z" fill="#A37B56"/>
<g stroke="#A37B56" stroke-width="2.7" fill="none"><line x1="315.71" y1="726.23" x2="330.11" y2="726.23"/></g>
<rect x="362.96" y="593.16" width="14.4" height="96.34" fill="#D9E9F3"/>
<g stroke="#3592C6" stroke-width="2.7" fill="none"><line x1="370.16" y1="593.16" x2="370.16" y2="549.98"/><line x1="370.16" y1="689.49" x2="370.16" y2="775.2"/><line x1="365.36" y1="549.98" x2="374.96" y2="549.98"/><line x1="365.36" y1="775.2" x2="374.96" y2="775.2"/><rect x="362.96" y="593.16" width="14.4" height="96.34"/></g>
<rect x="367.91" y="643.75" width="4.5" height="4.5" fill="#fff" stroke="#000" stroke-width="1.45"/>
<g stroke="#3592C6" stroke-width="2.7" fill="none"><line x1="362.96" y1="651.8" x2="377.36" y2="651.8"/></g>
<rect x="386.58" y="646.32" width="14.4" height="74.43" fill="#D9E9F3"/>
<g stroke="#3592C6" stroke-width="2.7" fill="none"><line x1="393.78" y1="646.32" x2="393.78" y2="549.98"/><line x1="393.78" y1="720.75" x2="393.78" y2="775.2"/><line x1="388.98" y1="549.98" x2="398.58" y2="549.98"/><line x1="388.98" y1="775.2" x2="398.58" y2="775.2"/><rect x="386.58" y="646.32" width="14.4" height="74.43"/></g>
<rect x="391.53" y="670.17" width="4.5" height="4.5" fill="#fff" stroke="#000" stroke-width="1.45"/>
<path d="M393.78 502.41L398.18 506.81L393.78 511.21L389.38 506.81Z" fill="#3592C6"/>
<path d="M393.78 523.99L398.18 528.39L393.78 532.79L389.38 528.39Z" fill="#3592C6"/>
<g stroke="#3592C6" stroke-width="2.7" fill="none"><line x1="386.58" y1="667.26" x2="400.98" y2="667.26"/></g>
<rect x="410.2" y="646.32" width="14.4" height="106.97" fill="#D9E9F3"/>
<g stroke="#3592C6" stroke-width="2.7" fill="none"><line x1="417.4" y1="646.32" x2="417.4" y2="549.98"/><line x1="417.4" y1="753.29" x2="417.4" y2="775.2"/><line x1="412.6" y1="549.98" x2="422.2" y2="549.98"/><line x1="412.6" y1="775.2" x2="422.2" y2="775.2"/><rect x="410.2" y="646.32" width="14.4" height="106.97"/></g>
<rect x="415.15" y="685.96" width="4.5" height="4.5" fill="#fff" stroke="#000" stroke-width="1.45"/>
<g stroke="#3592C6" stroke-width="2.7" fill="none"><line x1="410.2" y1="683.37" x2="424.6" y2="683.37"/></g>
<rect x="433.83" y="636.01" width="14.4" height="117.28" fill="#D9E9F3"/>
<g stroke="#3592C6" stroke-width="2.7" fill="none"><line x1="441.03" y1="636.01" x2="441.03" y2="539.35"/><line x1="441.03" y1="753.29" x2="441.03" y2="775.2"/><line x1="436.23" y1="539.35" x2="445.83" y2="539.35"/><line x1="436.23" y1="775.2" x2="445.83" y2="775.2"/><rect x="433.83" y="636.01" width="14.4" height="117.28"/></g>
<rect x="438.78" y="689.18" width="4.5" height="4.5" fill="#fff" stroke="#000" stroke-width="1.45"/>
<g stroke="#3592C6" stroke-width="2.7" fill="none"><line x1="433.83" y1="710.12" x2="448.23" y2="710.12"/></g>
<rect x="481.07" y="646.32" width="14.4" height="128.88" fill="#FDE6E6"/>
<g stroke="#F48F8F" stroke-width="2.7" fill="none"><line x1="488.27" y1="646.32" x2="488.27" y2="549.98"/><line x1="483.47" y1="549.98" x2="493.07" y2="549.98"/><line x1="483.47" y1="775.2" x2="493.07" y2="775.2"/><rect x="481.07" y="646.32" width="14.4" height="128.88"/></g>
<rect x="486.02" y="699.81" width="4.5" height="4.5" fill="#fff" stroke="#000" stroke-width="1.45"/>
<g stroke="#F48F8F" stroke-width="2.7" fill="none"><line x1="481.07" y1="710.44" x2="495.47" y2="710.44"/></g>
<rect x="504.7" y="656.95" width="14.4" height="118.25" fill="#FDE6E6"/>
<g stroke="#F48F8F" stroke-width="2.7" fill="none"><line x1="511.9" y1="656.95" x2="511.9" y2="517.44"/><line x1="507.1" y1="517.44" x2="516.7" y2="517.44"/><line x1="507.1" y1="775.2" x2="516.7" y2="775.2"/><rect x="504.7" y="656.95" width="14.4" height="118.25"/></g>
<rect x="509.65" y="714.31" width="4.5" height="4.5" fill="#fff" stroke="#000" stroke-width="1.45"/>
<g stroke="#F48F8F" stroke-width="2.7" fill="none"><line x1="504.7" y1="753.29" x2="519.1" y2="753.29"/></g>
<rect x="528.32" y="667.26" width="14.4" height="107.94" fill="#FDE6E6"/>
<g stroke="#F48F8F" stroke-width="2.7" fill="none"><line x1="535.52" y1="667.26" x2="535.52" y2="570.93"/><line x1="530.72" y1="570.93" x2="540.32" y2="570.93"/><line x1="530.72" y1="775.2" x2="540.32" y2="775.2"/><rect x="528.32" y="667.26" width="14.4" height="107.94"/></g>
<rect x="533.27" y="708.19" width="4.5" height="4.5" fill="#fff" stroke="#000" stroke-width="1.45"/>
<g stroke="#F48F8F" stroke-width="2.7" fill="none"><line x1="528.32" y1="731.7" x2="542.72" y2="731.7"/></g>
<rect x="551.94" y="646.32" width="14.4" height="128.88" fill="#FDE6E6"/>
<g stroke="#F48F8F" stroke-width="2.7" fill="none"><line x1="559.14" y1="646.32" x2="559.14" y2="549.98"/><line x1="554.34" y1="549.98" x2="563.94" y2="549.98"/><line x1="554.34" y1="775.2" x2="563.94" y2="775.2"/><rect x="551.94" y="646.32" width="14.4" height="128.88"/></g>
<rect x="556.89" y="705.93" width="4.5" height="4.5" fill="#fff" stroke="#000" stroke-width="1.45"/>
<g stroke="#F48F8F" stroke-width="2.7" fill="none"><line x1="551.94" y1="726.87" x2="566.34" y2="726.87"/></g>
<rect x="599.19" y="484.9" width="14.4" height="139.83" fill="#EAEAFA"/>
<g stroke="#9E9EE8" stroke-width="2.7" fill="none"><line x1="606.39" y1="484.9" x2="606.39" y2="453"/><line x1="606.39" y1="624.73" x2="606.39" y2="775.2"/><line x1="601.59" y1="453" x2="611.19" y2="453"/><line x1="601.59" y1="775.2" x2="611.19" y2="775.2"/><rect x="599.19" y="484.9" width="14.4" height="139.83"/></g>
<rect x="604.14" y="566.42" width="4.5" height="4.5" fill="#fff" stroke="#000" stroke-width="1.45"/>
<g stroke="#9E9EE8" stroke-width="2.7" fill="none"><line x1="599.19" y1="533.23" x2="613.59" y2="533.23"/></g>
<rect x="622.81" y="656.95" width="14.4" height="96.34" fill="#EAEAFA"/>
<g stroke="#9E9EE8" stroke-width="2.7" fill="none"><line x1="630.01" y1="656.95" x2="630.01" y2="582.2"/><line x1="630.01" y1="753.29" x2="630.01" y2="775.2"/><line x1="625.21" y1="582.2" x2="634.81" y2="582.2"/><line x1="625.21" y1="775.2" x2="634.81" y2="775.2"/><rect x="622.81" y="656.95" width="14.4" height="96.34"/></g>
<rect x="627.76" y="678.87" width="4.5" height="4.5" fill="#fff" stroke="#000" stroke-width="1.45"/>
<path d="M630.01 437.65L634.41 442.05L630.01 446.45L625.61 442.05Z" fill="#9E9EE8"/>
<path d="M630.01 502.41L634.41 506.81L630.01 511.21L625.61 506.81Z" fill="#9E9EE8"/>
<g stroke="#9E9EE8" stroke-width="2.7" fill="none"><line x1="622.81" y1="685.31" x2="637.21" y2="685.31"/></g>
<rect x="646.44" y="742.98" width="14.4" height="32.22" fill="#EAEAFA"/>
<g stroke="#9E9EE8" stroke-width="2.7" fill="none"><line x1="653.64" y1="742.98" x2="653.64" y2="699.81"/><line x1="648.84" y1="699.81" x2="658.44" y2="699.81"/><line x1="648.84" y1="775.2" x2="658.44" y2="775.2"/><rect x="646.44" y="742.98" width="14.4" height="32.22"/></g>
<rect x="651.39" y="742.02" width="4.5" height="4.5" fill="#fff" stroke="#000" stroke-width="1.45"/>
<path d="M653.64 566.53L658.04 570.93L653.64 575.33L649.24 570.93Z" fill="#9E9EE8"/>
<path d="M653.64 598.75L658.04 603.15L653.64 607.55L649.24 603.15Z" fill="#9E9EE8"/>
<path d="M653.64 620.33L658.04 624.73L653.64 629.13L649.24 624.73Z" fill="#9E9EE8"/>
<g stroke="#9E9EE8" stroke-width="2.7" fill="none"><line x1="646.44" y1="775.2" x2="660.84" y2="775.2"/></g>
<rect x="670.06" y="656.95" width="14.4" height="118.25" fill="#EAEAFA"/>
<g stroke="#9E9EE8" stroke-width="2.7" fill="none"><line x1="677.26" y1="656.95" x2="677.26" y2="571.57"/><line x1="672.46" y1="571.57" x2="682.06" y2="571.57"/><line x1="672.46" y1="775.2" x2="682.06" y2="775.2"/><rect x="670.06" y="656.95" width="14.4" height="118.25"/></g>
<rect x="675.01" y="719.79" width="4.5" height="4.5" fill="#fff" stroke="#000" stroke-width="1.45"/>
<g stroke="#9E9EE8" stroke-width="2.7" fill="none"><line x1="670.06" y1="759.73" x2="684.46" y2="759.73"/></g>
<rect x="717.31" y="592.83" width="14.4" height="107.29" fill="#ECF4E2"/>
<g stroke="#A3CC74" stroke-width="2.7" fill="none"><line x1="724.51" y1="592.83" x2="724.51" y2="506.81"/><line x1="724.51" y1="700.13" x2="724.51" y2="775.2"/><line x1="719.71" y1="506.81" x2="729.31" y2="506.81"/><line x1="719.71" y1="775.2" x2="729.31" y2="775.2"/><rect x="717.31" y="592.83" width="14.4" height="107.29"/></g>
<rect x="722.26" y="648.26" width="4.5" height="4.5" fill="#fff" stroke="#000" stroke-width="1.45"/>
<g stroke="#A3CC74" stroke-width="2.7" fill="none"><line x1="717.31" y1="656.95" x2="731.71" y2="656.95"/></g>
<rect x="740.93" y="526.14" width="14.4" height="152.72" fill="#ECF4E2"/>
<g stroke="#A3CC74" stroke-width="2.7" fill="none"><line x1="748.13" y1="526.14" x2="748.13" y2="442.05"/><line x1="748.13" y1="678.86" x2="748.13" y2="775.2"/><line x1="743.33" y1="442.05" x2="752.93" y2="442.05"/><line x1="743.33" y1="775.2" x2="752.93" y2="775.2"/><rect x="740.93" y="526.14" width="14.4" height="152.72"/></g>
<rect x="745.88" y="596.71" width="4.5" height="4.5" fill="#fff" stroke="#000" stroke-width="1.45"/>
<g stroke="#A3CC74" stroke-width="2.7" fill="none"><line x1="740.93" y1="581.24" x2="755.33" y2="581.24"/></g>
<rect x="764.55" y="506.81" width="14.4" height="139.51" fill="#ECF4E2"/>
<g stroke="#A3CC74" stroke-width="2.7" fill="none"><line x1="771.75" y1="506.81" x2="771.75" y2="453"/><line x1="771.75" y1="646.32" x2="771.75" y2="721.07"/><line x1="766.95" y1="453" x2="776.55" y2="453"/><line x1="766.95" y1="721.07" x2="776.55" y2="721.07"/><rect x="764.55" y="506.81" width="14.4" height="139.51"/></g>
<rect x="769.5" y="566.42" width="4.5" height="4.5" fill="#fff" stroke="#000" stroke-width="1.45"/>
<g stroke="#A3CC74" stroke-width="2.7" fill="none"><line x1="764.55" y1="543.54" x2="778.95" y2="543.54"/></g>
<rect x="788.18" y="582.2" width="14.4" height="117.93" fill="#ECF4E2"/>
<g stroke="#A3CC74" stroke-width="2.7" fill="none"><line x1="795.38" y1="582.2" x2="795.38" y2="453"/><line x1="795.38" y1="700.13" x2="795.38" y2="753.29"/><line x1="790.58" y1="453" x2="800.18" y2="453"/><line x1="790.58" y1="753.29" x2="800.18" y2="753.29"/><rect x="788.18" y="582.2" width="14.4" height="117.93"/></g>
<rect x="793.13" y="630.22" width="4.5" height="4.5" fill="#fff" stroke="#000" stroke-width="1.45"/>
<g stroke="#A3CC74" stroke-width="2.7" fill="none"><line x1="788.18" y1="646.32" x2="802.58" y2="646.32"/></g>
<path d="M110.3 791.3V437H819V791.3" fill="none" stroke="#000" stroke-width="1.8" stroke-linejoin="miter" stroke-linecap="square"/>
<line x1="109.4" y1="791.3" x2="819.9" y2="791.3" stroke="#000" stroke-width="1.3"/>
<line x1="110.3" y1="775.2" x2="116.8" y2="775.2" stroke="#000" stroke-width="1.5"/>
<text x="102.3" y="781.7" text-anchor="end" class="tk">0.0</text>
<line x1="110.3" y1="710.76" x2="116.8" y2="710.76" stroke="#000" stroke-width="1.5"/>
<text x="102.3" y="717.26" text-anchor="end" class="tk">0.2</text>
<line x1="110.3" y1="646.32" x2="116.8" y2="646.32" stroke="#000" stroke-width="1.5"/>
<text x="102.3" y="652.82" text-anchor="end" class="tk">0.4</text>
<line x1="110.3" y1="581.88" x2="116.8" y2="581.88" stroke="#000" stroke-width="1.5"/>
<text x="102.3" y="588.38" text-anchor="end" class="tk">0.6</text>
<line x1="110.3" y1="517.44" x2="116.8" y2="517.44" stroke="#000" stroke-width="1.5"/>
<text x="102.3" y="523.94" text-anchor="end" class="tk">0.8</text>
<line x1="110.3" y1="453" x2="116.8" y2="453" stroke="#000" stroke-width="1.5"/>
<text x="102.3" y="459.5" text-anchor="end" class="tk">1.0</text>
<rect x="939.63" y="468.78" width="14.4" height="83.08" fill="#FDEAD8"/>
<g stroke="#F5A652" stroke-width="2.7" fill="none"><line x1="946.83" y1="468.78" x2="946.83" y2="459.76"/><line x1="946.83" y1="551.85" x2="946.83" y2="670.03"/><line x1="942.03" y1="459.76" x2="951.63" y2="459.76"/><line x1="942.03" y1="670.03" x2="951.63" y2="670.03"/><rect x="939.63" y="468.78" width="14.4" height="83.08"/></g>
<rect x="944.58" y="519.66" width="4.5" height="4.5" fill="#fff" stroke="#000" stroke-width="1.45"/>
<g stroke="#F5A652" stroke-width="2.7" fill="none"><line x1="939.63" y1="517.72" x2="954.03" y2="517.72"/></g>
<rect x="963.25" y="475.22" width="14.4" height="79.53" fill="#FDEAD8"/>
<g stroke="#F5A652" stroke-width="2.7" fill="none"><line x1="970.45" y1="475.22" x2="970.45" y2="461.69"/><line x1="970.45" y1="554.75" x2="970.45" y2="614.97"/><line x1="965.65" y1="461.69" x2="975.25" y2="461.69"/><line x1="965.65" y1="614.97" x2="975.25" y2="614.97"/><rect x="963.25" y="475.22" width="14.4" height="79.53"/></g>
<rect x="968.2" y="510.64" width="4.5" height="4.5" fill="#fff" stroke="#000" stroke-width="1.45"/>
<path d="M970.45 675.29L974.85 679.69L970.45 684.09L966.05 679.69Z" fill="#F5A652"/>
<g stroke="#F5A652" stroke-width="2.7" fill="none"><line x1="963.25" y1="489.06" x2="977.65" y2="489.06"/></g>
<rect x="986.88" y="472.96" width="14.4" height="129.44" fill="#FDEAD8"/>
<g stroke="#F5A652" stroke-width="2.7" fill="none"><line x1="994.08" y1="472.96" x2="994.08" y2="461.69"/><line x1="994.08" y1="602.41" x2="994.08" y2="702.87"/><line x1="989.28" y1="461.69" x2="998.88" y2="461.69"/><line x1="989.28" y1="702.87" x2="998.88" y2="702.87"/><rect x="986.88" y="472.96" width="14.4" height="129.44"/></g>
<rect x="991.83" y="538.01" width="4.5" height="4.5" fill="#fff" stroke="#000" stroke-width="1.45"/>
<g stroke="#F5A652" stroke-width="2.7" fill="none"><line x1="986.88" y1="500.66" x2="1001.28" y2="500.66"/></g>
<rect x="1010.51" y="513.21" width="14.4" height="101.75" fill="#FDEAD8"/>
<g stroke="#F5A652" stroke-width="2.7" fill="none"><line x1="1017.71" y1="513.21" x2="1017.71" y2="464.59"/><line x1="1017.71" y1="614.97" x2="1017.71" y2="754.39"/><line x1="1012.91" y1="464.59" x2="1022.51" y2="464.59"/><line x1="1012.91" y1="754.39" x2="1022.51" y2="754.39"/><rect x="1010.51" y="513.21" width="14.4" height="101.75"/></g>
<rect x="1015.46" y="561.52" width="4.5" height="4.5" fill="#fff" stroke="#000" stroke-width="1.45"/>
<g stroke="#F5A652" stroke-width="2.7" fill="none"><line x1="1010.51" y1="536.08" x2="1024.91" y2="536.08"/></g>
<rect x="1057.76" y="717.68" width="14.4" height="46.69" fill="#ECE3DD"/>
<g stroke="#A37B56" stroke-width="2.7" fill="none"><line x1="1064.96" y1="717.68" x2="1064.96" y2="669.38"/><line x1="1064.96" y1="764.37" x2="1064.96" y2="775"/><line x1="1060.16" y1="669.38" x2="1069.76" y2="669.38"/><line x1="1060.16" y1="775" x2="1069.76" y2="775"/><rect x="1057.76" y="717.68" width="14.4" height="46.69"/></g>
<rect x="1062.71" y="729.28" width="4.5" height="4.5" fill="#fff" stroke="#000" stroke-width="1.45"/>
<path d="M1064.96 586.42L1069.36 590.82L1064.96 595.22L1060.56 590.82Z" fill="#A37B56"/>
<path d="M1064.96 600.26L1069.36 604.66L1064.96 609.06L1060.56 604.66Z" fill="#A37B56"/>
<g stroke="#A37B56" stroke-width="2.7" fill="none"><line x1="1057.76" y1="739.9" x2="1072.16" y2="739.9"/></g>
<rect x="1081.39" y="525.45" width="14.4" height="183.86" fill="#ECE3DD"/>
<g stroke="#A37B56" stroke-width="2.7" fill="none"><line x1="1088.59" y1="525.45" x2="1088.59" y2="458.8"/><line x1="1088.59" y1="709.31" x2="1088.59" y2="769.2"/><line x1="1083.79" y1="458.8" x2="1093.39" y2="458.8"/><line x1="1083.79" y1="769.2" x2="1093.39" y2="769.2"/><rect x="1081.39" y="525.45" width="14.4" height="183.86"/></g>
<rect x="1086.34" y="614.65" width="4.5" height="4.5" fill="#fff" stroke="#000" stroke-width="1.45"/>
<g stroke="#A37B56" stroke-width="2.7" fill="none"><line x1="1081.39" y1="606.59" x2="1095.79" y2="606.59"/></g>
<rect x="1105.01" y="504.52" width="14.4" height="137.49" fill="#ECE3DD"/>
<g stroke="#A37B56" stroke-width="2.7" fill="none"><line x1="1112.21" y1="504.52" x2="1112.21" y2="471.35"/><line x1="1112.21" y1="642.01" x2="1112.21" y2="754.07"/><line x1="1107.41" y1="471.35" x2="1117.01" y2="471.35"/><line x1="1107.41" y1="754.07" x2="1117.01" y2="754.07"/><rect x="1105.01" y="504.52" width="14.4" height="137.49"/></g>
<rect x="1109.96" y="571.18" width="4.5" height="4.5" fill="#fff" stroke="#000" stroke-width="1.45"/>
<g stroke="#A37B56" stroke-width="2.7" fill="none"><line x1="1105.01" y1="540.91" x2="1119.41" y2="540.91"/></g>
<rect x="1128.64" y="612.71" width="14.4" height="101.43" fill="#ECE3DD"/>
<g stroke="#A37B56" stroke-width="2.7" fill="none"><line x1="1135.84" y1="612.71" x2="1135.84" y2="520.62"/><line x1="1135.84" y1="714.14" x2="1135.84" y2="775"/><line x1="1131.04" y1="520.62" x2="1140.64" y2="520.62"/><line x1="1131.04" y1="775" x2="1140.64" y2="775"/><rect x="1128.64" y="612.71" width="14.4" height="101.43"/></g>
<rect x="1133.59" y="659.08" width="4.5" height="4.5" fill="#fff" stroke="#000" stroke-width="1.45"/>
<g stroke="#A37B56" stroke-width="2.7" fill="none"><line x1="1128.64" y1="653.93" x2="1143.04" y2="653.93"/></g>
<rect x="1175.89" y="760.83" width="14.4" height="14.17" fill="#D9E9F3"/>
<g stroke="#3592C6" stroke-width="2.7" fill="none"><line x1="1183.09" y1="760.83" x2="1183.09" y2="742.8"/><line x1="1178.29" y1="742.8" x2="1187.89" y2="742.8"/><line x1="1178.29" y1="775" x2="1187.89" y2="775"/><rect x="1175.89" y="760.83" width="14.4" height="14.17"/></g>
<rect x="1180.84" y="758.58" width="4.5" height="4.5" fill="#fff" stroke="#000" stroke-width="1.45"/>
<path d="M1183.09 607.02L1187.49 611.42L1183.09 615.82L1178.69 611.42Z" fill="#3592C6"/>
<path d="M1183.09 661.44L1187.49 665.84L1183.09 670.24L1178.69 665.84Z" fill="#3592C6"/>
<g stroke="#3592C6" stroke-width="2.7" fill="none"><line x1="1175.89" y1="774.03" x2="1190.29" y2="774.03"/></g>
<rect x="1199.52" y="731.53" width="14.4" height="43.47" fill="#D9E9F3"/>
<g stroke="#3592C6" stroke-width="2.7" fill="none"><line x1="1206.72" y1="731.53" x2="1206.72" y2="672.28"/><line x1="1201.92" y1="672.28" x2="1211.52" y2="672.28"/><line x1="1201.92" y1="775" x2="1211.52" y2="775"/><rect x="1199.52" y="731.53" width="14.4" height="43.47"/></g>
<rect x="1204.47" y="745.38" width="4.5" height="4.5" fill="#fff" stroke="#000" stroke-width="1.45"/>
<path d="M1206.72 606.38L1211.12 610.78L1206.72 615.18L1202.32 610.78Z" fill="#3592C6"/>
<g stroke="#3592C6" stroke-width="2.7" fill="none"><line x1="1199.52" y1="773.39" x2="1213.92" y2="773.39"/></g>
<rect x="1223.15" y="751.17" width="14.4" height="22.22" fill="#D9E9F3"/>
<g stroke="#3592C6" stroke-width="2.7" fill="none"><line x1="1230.35" y1="751.17" x2="1230.35" y2="717.68"/><line x1="1230.35" y1="773.39" x2="1230.35" y2="775"/><line x1="1225.55" y1="717.68" x2="1235.15" y2="717.68"/><line x1="1225.55" y1="775" x2="1235.15" y2="775"/><rect x="1223.15" y="751.17" width="14.4" height="22.22"/></g>
<rect x="1228.1" y="745.38" width="4.5" height="4.5" fill="#fff" stroke="#000" stroke-width="1.45"/>
<path d="M1230.35 491.75L1234.75 496.15L1230.35 500.55L1225.95 496.15Z" fill="#3592C6"/>
<path d="M1230.35 651.46L1234.75 655.86L1230.35 660.26L1225.95 655.86Z" fill="#3592C6"/>
<path d="M1230.35 669.17L1234.75 673.57L1230.35 677.97L1225.95 673.57Z" fill="#3592C6"/>
<g stroke="#3592C6" stroke-width="2.7" fill="none"><line x1="1223.15" y1="763.73" x2="1237.55" y2="763.73"/></g>
<rect x="1246.77" y="761.48" width="14.4" height="11.91" fill="#D9E9F3"/>
<g stroke="#3592C6" stroke-width="2.7" fill="none"><line x1="1253.97" y1="761.48" x2="1253.97" y2="742.8"/><line x1="1253.97" y1="773.39" x2="1253.97" y2="775"/><line x1="1249.17" y1="742.8" x2="1258.77" y2="742.8"/><line x1="1249.17" y1="775" x2="1258.77" y2="775"/><rect x="1246.77" y="761.48" width="14.4" height="11.91"/></g>
<rect x="1251.72" y="757.29" width="4.5" height="4.5" fill="#fff" stroke="#000" stroke-width="1.45"/>
<path d="M1253.97 517.51L1258.37 521.91L1253.97 526.31L1249.57 521.91Z" fill="#3592C6"/>
<path d="M1253.97 723.59L1258.37 727.99L1253.97 732.39L1249.57 727.99Z" fill="#3592C6"/>
<g stroke="#3592C6" stroke-width="2.7" fill="none"><line x1="1246.77" y1="772.42" x2="1261.17" y2="772.42"/></g>
<rect x="1294.03" y="579.22" width="14.4" height="185.15" fill="#FDE6E6"/>
<g stroke="#F48F8F" stroke-width="2.7" fill="none"><line x1="1301.23" y1="579.22" x2="1301.23" y2="482.62"/><line x1="1301.23" y1="764.37" x2="1301.23" y2="775"/><line x1="1296.43" y1="482.62" x2="1306.03" y2="482.62"/><line x1="1296.43" y1="775" x2="1306.03" y2="775"/><rect x="1294.03" y="579.22" width="14.4" height="185.15"/></g>
<rect x="1298.98" y="668.42" width="4.5" height="4.5" fill="#fff" stroke="#000" stroke-width="1.45"/>
<g stroke="#F48F8F" stroke-width="2.7" fill="none"><line x1="1294.03" y1="715.43" x2="1308.43" y2="715.43"/></g>
<rect x="1317.65" y="571.5" width="14.4" height="167.12" fill="#FDE6E6"/>
<g stroke="#F48F8F" stroke-width="2.7" fill="none"><line x1="1324.85" y1="571.5" x2="1324.85" y2="475.54"/><line x1="1324.85" y1="738.61" x2="1324.85" y2="775"/><line x1="1320.05" y1="475.54" x2="1329.65" y2="475.54"/><line x1="1320.05" y1="775" x2="1329.65" y2="775"/><rect x="1317.65" y="571.5" width="14.4" height="167.12"/></g>
<rect x="1322.6" y="651.68" width="4.5" height="4.5" fill="#fff" stroke="#000" stroke-width="1.45"/>
<g stroke="#F48F8F" stroke-width="2.7" fill="none"><line x1="1317.65" y1="687.42" x2="1332.05" y2="687.42"/></g>
<rect x="1341.28" y="588.88" width="14.4" height="175.49" fill="#FDE6E6"/>
<g stroke="#F48F8F" stroke-width="2.7" fill="none"><line x1="1348.48" y1="588.88" x2="1348.48" y2="491.96"/><line x1="1348.48" y1="764.37" x2="1348.48" y2="775"/><line x1="1343.68" y1="491.96" x2="1353.28" y2="491.96"/><line x1="1343.68" y1="775" x2="1353.28" y2="775"/><rect x="1341.28" y="588.88" width="14.4" height="175.49"/></g>
<rect x="1346.23" y="664.88" width="4.5" height="4.5" fill="#fff" stroke="#000" stroke-width="1.45"/>
<g stroke="#F48F8F" stroke-width="2.7" fill="none"><line x1="1341.28" y1="696.75" x2="1355.68" y2="696.75"/></g>
<rect x="1364.91" y="584.7" width="14.4" height="151.02" fill="#FDE6E6"/>
<g stroke="#F48F8F" stroke-width="2.7" fill="none"><line x1="1372.11" y1="584.7" x2="1372.11" y2="499.69"/><line x1="1372.11" y1="735.72" x2="1372.11" y2="775"/><line x1="1367.31" y1="499.69" x2="1376.91" y2="499.69"/><line x1="1367.31" y1="775" x2="1376.91" y2="775"/><rect x="1364.91" y="584.7" width="14.4" height="151.02"/></g>
<rect x="1369.86" y="656.51" width="4.5" height="4.5" fill="#fff" stroke="#000" stroke-width="1.45"/>
<g stroke="#F48F8F" stroke-width="2.7" fill="none"><line x1="1364.91" y1="659.72" x2="1379.31" y2="659.72"/></g>
<rect x="1412.16" y="761.48" width="14.4" height="13.52" fill="#EAEAFA"/>
<g stroke="#9E9EE8" stroke-width="2.7" fill="none"><line x1="1419.36" y1="761.48" x2="1419.36" y2="749.88"/><line x1="1414.56" y1="749.88" x2="1424.16" y2="749.88"/><line x1="1414.56" y1="775" x2="1424.16" y2="775"/><rect x="1412.16" y="761.48" width="14.4" height="13.52"/></g>
<rect x="1417.11" y="747.63" width="4.5" height="4.5" fill="#fff" stroke="#000" stroke-width="1.45"/>
<path d="M1419.36 564.2L1423.76 568.6L1419.36 573L1414.96 568.6Z" fill="#9E9EE8"/>
<path d="M1419.36 569.67L1423.76 574.07L1419.36 578.47L1414.96 574.07Z" fill="#9E9EE8"/>
<path d="M1419.36 602.19L1423.76 606.59L1419.36 610.99L1414.96 606.59Z" fill="#9E9EE8"/>
<path d="M1419.36 655.65L1423.76 660.05L1419.36 664.45L1414.96 660.05Z" fill="#9E9EE8"/>
<path d="M1419.36 706.84L1423.76 711.24L1419.36 715.64L1414.96 711.24Z" fill="#9E9EE8"/>
<g stroke="#9E9EE8" stroke-width="2.7" fill="none"><line x1="1412.16" y1="775" x2="1426.56" y2="775"/></g>
<rect x="1435.79" y="737.65" width="14.4" height="33.17" fill="#EAEAFA"/>
<g stroke="#9E9EE8" stroke-width="2.7" fill="none"><line x1="1442.99" y1="737.65" x2="1442.99" y2="693.53"/><line x1="1442.99" y1="770.81" x2="1442.99" y2="775"/><line x1="1438.19" y1="693.53" x2="1447.79" y2="693.53"/><line x1="1438.19" y1="775" x2="1447.79" y2="775"/><rect x="1435.79" y="737.65" width="14.4" height="33.17"/></g>
<rect x="1440.74" y="745.38" width="4.5" height="4.5" fill="#fff" stroke="#000" stroke-width="1.45"/>
<path d="M1442.99 606.38L1447.39 610.78L1442.99 615.18L1438.59 610.78Z" fill="#9E9EE8"/>
<path d="M1442.99 614.75L1447.39 619.15L1442.99 623.55L1438.59 619.15Z" fill="#9E9EE8"/>
<g stroke="#9E9EE8" stroke-width="2.7" fill="none"><line x1="1435.79" y1="762.76" x2="1450.19" y2="762.76"/></g>
<rect x="1459.41" y="660.05" width="14.4" height="99.5" fill="#EAEAFA"/>
<g stroke="#9E9EE8" stroke-width="2.7" fill="none"><line x1="1466.61" y1="660.05" x2="1466.61" y2="519.65"/><line x1="1466.61" y1="759.54" x2="1466.61" y2="775"/><line x1="1461.81" y1="519.65" x2="1471.41" y2="519.65"/><line x1="1461.81" y1="775" x2="1471.41" y2="775"/><rect x="1459.41" y="660.05" width="14.4" height="99.5"/></g>
<rect x="1464.36" y="695.47" width="4.5" height="4.5" fill="#fff" stroke="#000" stroke-width="1.45"/>
<path d="M1466.61 474.04L1471.01 478.44L1466.61 482.84L1462.21 478.44Z" fill="#9E9EE8"/>
<path d="M1466.61 491.75L1471.01 496.15L1466.61 500.55L1462.21 496.15Z" fill="#9E9EE8"/>
<g stroke="#9E9EE8" stroke-width="2.7" fill="none"><line x1="1459.41" y1="715.43" x2="1473.81" y2="715.43"/></g>
<rect x="1483.04" y="670.67" width="14.4" height="91.77" fill="#EAEAFA"/>
<g stroke="#9E9EE8" stroke-width="2.7" fill="none"><line x1="1490.24" y1="670.67" x2="1490.24" y2="596.93"/><line x1="1490.24" y1="762.44" x2="1490.24" y2="775"/><line x1="1485.44" y1="596.93" x2="1495.04" y2="596.93"/><line x1="1485.44" y1="775" x2="1495.04" y2="775"/><rect x="1483.04" y="670.67" width="14.4" height="91.77"/></g>
<rect x="1487.99" y="694.5" width="4.5" height="4.5" fill="#fff" stroke="#000" stroke-width="1.45"/>
<path d="M1490.24 475.33L1494.64 479.73L1490.24 484.13L1485.84 479.73Z" fill="#9E9EE8"/>
<path d="M1490.24 488.85L1494.64 493.25L1490.24 497.65L1485.84 493.25Z" fill="#9E9EE8"/>
<path d="M1490.24 499.48L1494.64 503.88L1490.24 508.28L1485.84 503.88Z" fill="#9E9EE8"/>
<g stroke="#9E9EE8" stroke-width="2.7" fill="none"><line x1="1483.04" y1="719.62" x2="1497.44" y2="719.62"/></g>
<rect x="1530.29" y="766.63" width="14.4" height="8.37" fill="#ECF4E2"/>
<g stroke="#A3CC74" stroke-width="2.7" fill="none"><line x1="1537.49" y1="766.63" x2="1537.49" y2="755.36"/><line x1="1532.69" y1="755.36" x2="1542.29" y2="755.36"/><line x1="1532.69" y1="775" x2="1542.29" y2="775"/><rect x="1530.29" y="766.63" width="14.4" height="8.37"/></g>
<rect x="1535.24" y="759.23" width="4.5" height="4.5" fill="#fff" stroke="#000" stroke-width="1.45"/>
<path d="M1537.49 662.73L1541.89 667.13L1537.49 671.53L1533.09 667.13Z" fill="#A3CC74"/>
<path d="M1537.49 689.13L1541.89 693.53L1537.49 697.93L1533.09 693.53Z" fill="#A3CC74"/>
<path d="M1537.49 698.47L1541.89 702.87L1537.49 707.27L1533.09 702.87Z" fill="#A3CC74"/>
<path d="M1537.49 727.13L1541.89 731.53L1537.49 735.93L1533.09 731.53Z" fill="#A3CC74"/>
<path d="M1537.49 731.32L1541.89 735.72L1537.49 740.12L1533.09 735.72Z" fill="#A3CC74"/>
<path d="M1537.49 744.52L1541.89 748.92L1537.49 753.32L1533.09 748.92Z" fill="#A3CC74"/>
<g stroke="#A3CC74" stroke-width="2.7" fill="none"><line x1="1530.29" y1="775" x2="1544.69" y2="775"/></g>
<rect x="1553.92" y="769.85" width="14.4" height="5.15" fill="#ECF4E2"/>
<g stroke="#A3CC74" stroke-width="2.7" fill="none"><line x1="1556.32" y1="769.85" x2="1565.92" y2="769.85"/><line x1="1556.32" y1="775" x2="1565.92" y2="775"/><rect x="1553.92" y="769.85" width="14.4" height="5.15"/></g>
<rect x="1558.87" y="762.77" width="4.5" height="4.5" fill="#fff" stroke="#000" stroke-width="1.45"/>
<path d="M1561.12 651.46L1565.52 655.86L1561.12 660.26L1556.72 655.86Z" fill="#A3CC74"/>
<path d="M1561.12 696.54L1565.52 700.94L1561.12 705.34L1556.72 700.94Z" fill="#A3CC74"/>
<path d="M1561.12 738.4L1565.52 742.8L1561.12 747.2L1556.72 742.8Z" fill="#A3CC74"/>
<path d="M1561.12 748.7L1565.52 753.1L1561.12 757.5L1556.72 753.1Z" fill="#A3CC74"/>
<path d="M1561.12 752.89L1565.52 757.29L1561.12 761.69L1556.72 757.29Z" fill="#A3CC74"/>
<path d="M1561.12 757.08L1565.52 761.48L1561.12 765.88L1556.72 761.48Z" fill="#A3CC74"/>
<g stroke="#A3CC74" stroke-width="2.7" fill="none"><line x1="1553.92" y1="775" x2="1568.32" y2="775"/></g>
<g stroke="#A3CC74" stroke-width="2.7" fill="none"><line x1="1579.95" y1="775" x2="1589.55" y2="775"/><line x1="1579.95" y1="775" x2="1589.55" y2="775"/></g>
<path d="M1584.75 704.91L1589.15 709.31L1584.75 713.71L1580.35 709.31Z" fill="#A3CC74"/>
<path d="M1584.75 731.96L1589.15 736.36L1584.75 740.76L1580.35 736.36Z" fill="#A3CC74"/>
<path d="M1584.75 741.3L1589.15 745.7L1584.75 750.1L1580.35 745.7Z" fill="#A3CC74"/>
<path d="M1584.75 764.8L1589.15 769.2L1584.75 773.6L1580.35 769.2Z" fill="#A3CC74"/>
<g stroke="#A3CC74" stroke-width="2.7" fill="none"><line x1="1576.2" y1="775" x2="1593.3" y2="775"/></g>
<rect x="1601.17" y="769.85" width="14.4" height="5.15" fill="#ECF4E2"/>
<g stroke="#A3CC74" stroke-width="2.7" fill="none"><line x1="1603.57" y1="769.85" x2="1613.17" y2="769.85"/><line x1="1603.57" y1="775" x2="1613.17" y2="775"/><rect x="1601.17" y="769.85" width="14.4" height="5.15"/></g>
<rect x="1606.12" y="764.38" width="4.5" height="4.5" fill="#fff" stroke="#000" stroke-width="1.45"/>
<path d="M1608.37 709.1L1612.77 713.5L1608.37 717.9L1603.97 713.5Z" fill="#A3CC74"/>
<path d="M1608.37 715.22L1612.77 719.62L1608.37 724.02L1603.97 719.62Z" fill="#A3CC74"/>
<path d="M1608.37 722.94L1612.77 727.34L1608.37 731.74L1603.97 727.34Z" fill="#A3CC74"/>
<path d="M1608.37 731.32L1612.77 735.72L1608.37 740.12L1603.97 735.72Z" fill="#A3CC74"/>
<path d="M1608.37 750.96L1612.77 755.36L1608.37 759.76L1603.97 755.36Z" fill="#A3CC74"/>
<path d="M1608.37 755.14L1612.77 759.54L1608.37 763.94L1603.97 759.54Z" fill="#A3CC74"/>
<g stroke="#A3CC74" stroke-width="2.7" fill="none"><line x1="1601.17" y1="775" x2="1615.57" y2="775"/></g>
<path d="M923.2 791.3V437H1632V791.3" fill="none" stroke="#000" stroke-width="1.8" stroke-linejoin="miter" stroke-linecap="square"/>
<line x1="922.3" y1="791.3" x2="1632.9" y2="791.3" stroke="#000" stroke-width="1.4"/>
<line x1="923.2" y1="775" x2="929.7" y2="775" stroke="#000" stroke-width="1.5"/>
<text x="915.2" y="781.5" text-anchor="end" class="tk">0.0</text>
<line x1="923.2" y1="710.6" x2="929.7" y2="710.6" stroke="#000" stroke-width="1.5"/>
<text x="915.2" y="717.1" text-anchor="end" class="tk">0.2</text>
<line x1="923.2" y1="646.2" x2="929.7" y2="646.2" stroke="#000" stroke-width="1.5"/>
<text x="915.2" y="652.7" text-anchor="end" class="tk">0.4</text>
<line x1="923.2" y1="581.8" x2="929.7" y2="581.8" stroke="#000" stroke-width="1.5"/>
<text x="915.2" y="588.3" text-anchor="end" class="tk">0.6</text>
<line x1="923.2" y1="517.4" x2="929.7" y2="517.4" stroke="#000" stroke-width="1.5"/>
<text x="915.2" y="523.9" text-anchor="end" class="tk">0.8</text>
<line x1="923.2" y1="453" x2="929.7" y2="453" stroke="#000" stroke-width="1.5"/>
<text x="915.2" y="459.5" text-anchor="end" class="tk">1.0</text>
<text x="127.3" y="61.9" text-anchor="middle" class="md">6</text>
<text x="154.2" y="61.82" text-anchor="middle" class="md">7</text>
<text x="182.1" y="61.74" text-anchor="middle" class="md">8</text>
<text x="208.7" y="61.66" text-anchor="middle" class="md">9</text>
<text x="246.3" y="61.55" text-anchor="middle" class="md">6</text>
<text x="273.2" y="61.47" text-anchor="middle" class="md">7</text>
<text x="300.5" y="61.39" text-anchor="middle" class="md">8</text>
<text x="327" y="61.31" text-anchor="middle" class="md">9</text>
<text x="365.5" y="61.19" text-anchor="middle" class="md">6</text>
<text x="392.2" y="61.11" text-anchor="middle" class="md">7</text>
<text x="420" y="61.03" text-anchor="middle" class="md">8</text>
<text x="446.6" y="60.95" text-anchor="middle" class="md">9</text>
<text x="485.5" y="60.84" text-anchor="middle" class="md">6</text>
<text x="512.1" y="60.76" text-anchor="middle" class="md">7</text>
<text x="539.8" y="60.67" text-anchor="middle" class="md">8</text>
<text x="566.2" y="60.6" text-anchor="middle" class="md">9</text>
<text x="601.6" y="60.49" text-anchor="middle" class="md">6</text>
<text x="628.5" y="60.41" text-anchor="middle" class="md">7</text>
<text x="655.6" y="60.33" text-anchor="middle" class="md">8</text>
<text x="682.6" y="60.25" text-anchor="middle" class="md">9</text>
<text x="718.6" y="60.14" text-anchor="middle" class="md">6</text>
<text x="745.7" y="60.06" text-anchor="middle" class="md">7</text>
<text x="772.6" y="59.98" text-anchor="middle" class="md">8</text>
<text x="800" y="59.9" text-anchor="middle" class="md">9</text>
<text transform="translate(168.7,35.32) scale(1,1.08)" text-anchor="middle" class="cn">Guangzhou</text>
<text transform="translate(286.7,34.88) scale(1,1.08)" text-anchor="middle" class="cn">Jinan</text>
<text transform="translate(405.9,34.44) scale(1,1.08)" text-anchor="middle" class="cn">Lanzhou</text>
<text transform="translate(525.85,33.99) scale(1,1.08)" text-anchor="middle" class="cn">Atlanta</text>
<text transform="translate(643.4,33.56) scale(1,1.08)" text-anchor="middle" class="cn">Flagstaff</text>
<text transform="translate(759.35,33.13) scale(1,1.08)" text-anchor="middle" class="cn">Billings</text>
<text x="942.3" y="59.7" text-anchor="middle" class="md">6</text>
<text x="969.3" y="59.67" text-anchor="middle" class="md">7</text>
<text x="996.6" y="59.64" text-anchor="middle" class="md">8</text>
<text x="1023.3" y="59.62" text-anchor="middle" class="md">9</text>
<text x="1061.2" y="59.58" text-anchor="middle" class="md">6</text>
<text x="1087.4" y="59.55" text-anchor="middle" class="md">7</text>
<text x="1115.2" y="59.52" text-anchor="middle" class="md">8</text>
<text x="1141.8" y="59.49" text-anchor="middle" class="md">9</text>
<text x="1180.2" y="59.45" text-anchor="middle" class="md">6</text>
<text x="1207.1" y="59.42" text-anchor="middle" class="md">7</text>
<text x="1234.5" y="59.4" text-anchor="middle" class="md">8</text>
<text x="1261.6" y="59.37" text-anchor="middle" class="md">9</text>
<text x="1300.4" y="59.33" text-anchor="middle" class="md">6</text>
<text x="1327.1" y="59.3" text-anchor="middle" class="md">7</text>
<text x="1354" y="59.27" text-anchor="middle" class="md">8</text>
<text x="1381.1" y="59.24" text-anchor="middle" class="md">9</text>
<text x="1416.6" y="59.21" text-anchor="middle" class="md">6</text>
<text x="1442.8" y="59.18" text-anchor="middle" class="md">7</text>
<text x="1470.2" y="59.15" text-anchor="middle" class="md">8</text>
<text x="1497.2" y="59.12" text-anchor="middle" class="md">9</text>
<text x="1534" y="59.08" text-anchor="middle" class="md">6</text>
<text x="1560.2" y="59.06" text-anchor="middle" class="md">7</text>
<text x="1587.6" y="59.03" text-anchor="middle" class="md">8</text>
<text x="1614.6" y="59" text-anchor="middle" class="md">9</text>
<text transform="translate(983.05,32.95) scale(1,1.08)" text-anchor="middle" class="cn">Guangzhou</text>
<text transform="translate(1101.9,32.82) scale(1,1.08)" text-anchor="middle" class="cn">Jinan</text>
<text transform="translate(1220.85,32.7) scale(1,1.08)" text-anchor="middle" class="cn">Lanzhou</text>
<text transform="translate(1340.8,32.58) scale(1,1.08)" text-anchor="middle" class="cn">Atlanta</text>
<text transform="translate(1458.35,32.46) scale(1,1.08)" text-anchor="middle" class="cn">Flagstaff</text>
<text transform="translate(1574.3,32.34) scale(1,1.08)" text-anchor="middle" class="cn">Billings</text>
<text x="130" y="819" text-anchor="middle" class="md">6</text>
<text x="157.2" y="818.96" text-anchor="middle" class="md">7</text>
<text x="184.1" y="818.92" text-anchor="middle" class="md">8</text>
<text x="211.5" y="818.88" text-anchor="middle" class="md">9</text>
<text x="250.1" y="818.82" text-anchor="middle" class="md">6</text>
<text x="277.3" y="818.78" text-anchor="middle" class="md">7</text>
<text x="304.3" y="818.74" text-anchor="middle" class="md">8</text>
<text x="331.6" y="818.7" text-anchor="middle" class="md">9</text>
<text x="366.2" y="818.65" text-anchor="middle" class="md">6</text>
<text x="393.6" y="818.61" text-anchor="middle" class="md">7</text>
<text x="420.7" y="818.57" text-anchor="middle" class="md">8</text>
<text x="447.6" y="818.53" text-anchor="middle" class="md">9</text>
<text x="485.1" y="818.47" text-anchor="middle" class="md">6</text>
<text x="511.7" y="818.43" text-anchor="middle" class="md">7</text>
<text x="539.1" y="818.39" text-anchor="middle" class="md">8</text>
<text x="566.2" y="818.35" text-anchor="middle" class="md">9</text>
<text x="603.8" y="818.3" text-anchor="middle" class="md">6</text>
<text x="630.7" y="818.26" text-anchor="middle" class="md">7</text>
<text x="658.1" y="818.22" text-anchor="middle" class="md">8</text>
<text x="685.2" y="818.18" text-anchor="middle" class="md">9</text>
<text x="724" y="818.12" text-anchor="middle" class="md">6</text>
<text x="751" y="818.08" text-anchor="middle" class="md">7</text>
<text x="778.4" y="818.04" text-anchor="middle" class="md">8</text>
<text x="805.4" y="818" text-anchor="middle" class="md">9</text>
<text transform="translate(170.75,846.46) scale(1,1.08)" text-anchor="middle" class="cn">Guangzhou</text>
<text transform="translate(290.9,846.12) scale(1,1.08)" text-anchor="middle" class="cn">Jinan</text>
<text transform="translate(407.35,845.8) scale(1,1.08)" text-anchor="middle" class="cn">Lanzhou</text>
<text transform="translate(525.85,845.47) scale(1,1.08)" text-anchor="middle" class="cn">Atlanta</text>
<text transform="translate(645.9,845.13) scale(1,1.08)" text-anchor="middle" class="cn">Flagstaff</text>
<text transform="translate(764.75,844.8) scale(1,1.08)" text-anchor="middle" class="cn">Billings</text>
<text x="939.4" y="816.6" text-anchor="middle" class="md">6</text>
<text x="966.4" y="816.54" text-anchor="middle" class="md">7</text>
<text x="993.8" y="816.49" text-anchor="middle" class="md">8</text>
<text x="1020.8" y="816.43" text-anchor="middle" class="md">9</text>
<text x="1059.3" y="816.35" text-anchor="middle" class="md">6</text>
<text x="1086.4" y="816.3" text-anchor="middle" class="md">7</text>
<text x="1113.3" y="816.24" text-anchor="middle" class="md">8</text>
<text x="1140.4" y="816.18" text-anchor="middle" class="md">9</text>
<text x="1175.8" y="816.11" text-anchor="middle" class="md">6</text>
<text x="1202.8" y="816.05" text-anchor="middle" class="md">7</text>
<text x="1230.2" y="816" text-anchor="middle" class="md">8</text>
<text x="1257.2" y="815.94" text-anchor="middle" class="md">9</text>
<text x="1294.3" y="815.86" text-anchor="middle" class="md">6</text>
<text x="1321.3" y="815.81" text-anchor="middle" class="md">7</text>
<text x="1348.3" y="815.75" text-anchor="middle" class="md">8</text>
<text x="1375.4" y="815.7" text-anchor="middle" class="md">9</text>
<text x="1413.7" y="815.62" text-anchor="middle" class="md">6</text>
<text x="1439.9" y="815.56" text-anchor="middle" class="md">7</text>
<text x="1467.3" y="815.51" text-anchor="middle" class="md">8</text>
<text x="1494.4" y="815.45" text-anchor="middle" class="md">9</text>
<text x="1533.5" y="815.37" text-anchor="middle" class="md">6</text>
<text x="1560.2" y="815.31" text-anchor="middle" class="md">7</text>
<text x="1587.6" y="815.26" text-anchor="middle" class="md">8</text>
<text x="1614.6" y="815.2" text-anchor="middle" class="md">9</text>
<text transform="translate(980.5,842.45) scale(1,1.08)" text-anchor="middle" class="cn">Guangzhou</text>
<text transform="translate(1099.7,842.33) scale(1,1.08)" text-anchor="middle" class="cn">Jinan</text>
<text transform="translate(1216.5,842.2) scale(1,1.08)" text-anchor="middle" class="cn">Lanzhou</text>
<text transform="translate(1335,842.08) scale(1,1.08)" text-anchor="middle" class="cn">Atlanta</text>
<text transform="translate(1455.1,841.96) scale(1,1.08)" text-anchor="middle" class="cn">Flagstaff</text>
<text transform="translate(1574.3,841.84) scale(1,1.08)" text-anchor="middle" class="cn">Billings</text>
<text transform="translate(58,281.8) rotate(-90)" class="yl" style="font-size:34px">(a) <tspan font-style="italic">R</tspan><tspan font-style="italic" font-size="21" dy="9">r</tspan></text>
<text transform="translate(868,293.3) rotate(-90)" class="yl" style="font-size:40px">(b) <tspan font-style="italic">W</tspan><tspan font-style="italic" font-size="25" dy="10">s</tspan></text>
<text transform="translate(58,645.8) rotate(-90)" class="yl" style="font-size:34px">(c) <tspan font-style="italic">I</tspan><tspan font-style="italic" font-size="21" dy="9">t</tspan></text>
<line x1="841.8" y1="623.6" x2="841.8" y2="638.2" stroke="#000" stroke-width="2"/>
<text transform="translate(869,685) rotate(-90)" class="yl" style="font-size:33px">(d) <tspan font-style="italic">S</tspan><tspan font-style="italic" font-size="20" dy="9">s</tspan><tspan dy="-9">/</tspan><tspan font-style="italic">S</tspan><tspan font-style="italic" font-size="22.5" dy="9">smax</tspan></text>
</svg></body></html>
